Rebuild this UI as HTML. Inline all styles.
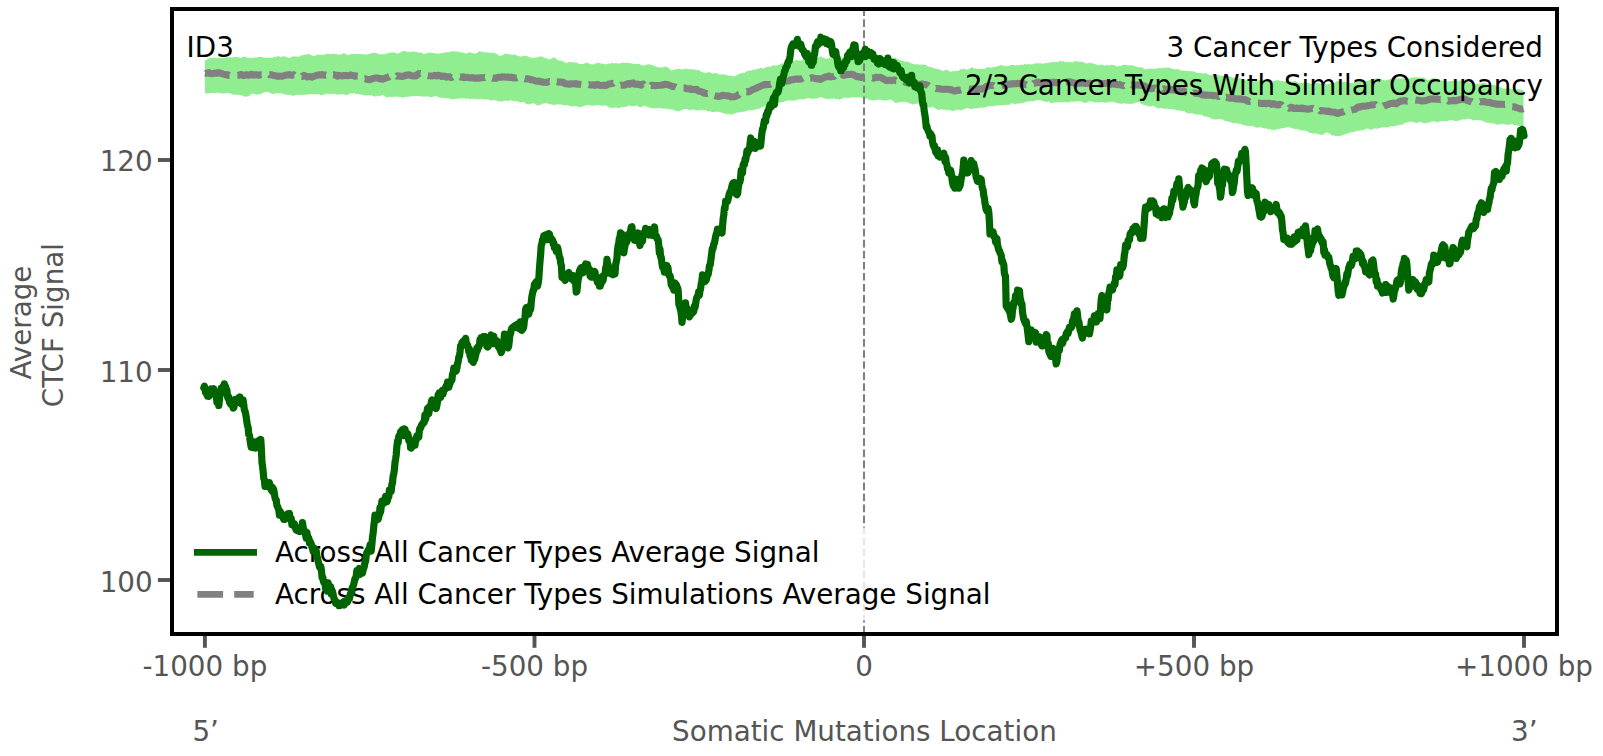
<!DOCTYPE html>
<html lang="en"><head><meta charset="utf-8"><title>CTCF Signal Plot</title>
<style>html,body{margin:0;padding:0;background:#fff}body{width:1603px;height:756px;overflow:hidden}</style></head>
<body>
<svg width="1603" height="756" viewBox="0 0 1603 756" style="display:block;font-family:'DejaVu Sans','Liberation Sans',sans-serif;font-size:27.78px">
<rect x="0" y="0" width="1603" height="756" fill="#fff"/>
<path d="M204.9,59.9 L205.6,60.0 L206.2,59.9 L206.9,59.4 L207.5,59.1 L208.2,58.5 L208.9,58.4 L209.5,58.3 L210.2,57.9 L210.8,58.0 L211.5,57.8 L212.2,57.7 L212.8,58.1 L213.5,58.1 L214.1,57.6 L214.8,57.6 L215.5,58.0 L216.1,57.8 L216.8,58.2 L217.4,58.3 L218.1,58.0 L218.8,57.9 L219.4,58.0 L220.1,58.1 L220.7,58.0 L221.4,58.0 L222.1,58.2 L222.7,58.0 L223.4,58.0 L224.0,57.8 L224.7,58.0 L225.4,57.6 L226.0,57.5 L226.7,57.1 L227.3,57.0 L228.0,57.4 L228.7,57.4 L229.3,57.2 L230.0,57.4 L230.6,57.1 L231.3,57.4 L232.0,57.6 L232.6,57.3 L233.3,57.3 L233.9,57.2 L234.6,57.0 L235.3,56.7 L235.9,57.5 L236.6,56.9 L237.2,56.7 L237.9,57.3 L238.6,57.1 L239.2,57.7 L239.9,57.7 L240.5,57.9 L241.2,57.4 L241.9,57.5 L242.5,57.2 L243.2,56.8 L243.8,56.8 L244.5,56.4 L245.2,56.8 L245.8,56.7 L246.5,57.2 L247.1,57.5 L247.8,57.8 L248.5,57.9 L249.1,58.0 L249.8,58.1 L250.4,58.2 L251.1,58.1 L251.8,57.9 L252.4,57.7 L253.1,57.7 L253.7,57.9 L254.4,58.0 L255.1,57.5 L255.7,57.0 L256.4,57.2 L257.0,57.6 L257.7,57.4 L258.4,56.8 L259.0,56.8 L259.7,56.9 L260.3,56.8 L261.0,56.9 L261.7,57.0 L262.3,57.1 L263.0,57.2 L263.6,57.7 L264.3,57.8 L265.0,57.4 L265.6,57.5 L266.3,57.4 L266.9,57.9 L267.6,57.5 L268.3,57.6 L268.9,57.4 L269.6,57.4 L270.2,57.6 L270.9,58.0 L271.6,57.7 L272.2,57.7 L272.9,57.6 L273.5,57.4 L274.2,57.1 L274.9,57.1 L275.5,56.9 L276.2,56.4 L276.8,56.4 L277.5,55.9 L278.2,56.4 L278.8,56.3 L279.5,56.6 L280.1,56.8 L280.8,57.1 L281.5,57.0 L282.1,56.5 L282.8,56.4 L283.4,56.1 L284.1,56.4 L284.8,56.5 L285.4,56.6 L286.1,56.7 L286.7,57.0 L287.4,57.3 L288.1,57.7 L288.7,57.9 L289.4,57.7 L290.0,57.7 L290.7,57.4 L291.4,57.1 L292.0,56.7 L292.7,56.6 L293.3,56.3 L294.0,56.6 L294.7,56.4 L295.3,56.5 L296.0,56.6 L296.6,56.8 L297.3,56.7 L298.0,56.6 L298.6,56.8 L299.3,56.6 L299.9,56.5 L300.6,55.9 L301.3,55.6 L301.9,55.1 L302.6,55.3 L303.2,55.2 L303.9,54.8 L304.6,54.5 L305.2,54.3 L305.9,54.8 L306.5,54.5 L307.2,54.5 L307.9,54.0 L308.5,54.1 L309.2,54.3 L309.8,54.2 L310.5,54.4 L311.2,55.0 L311.8,55.4 L312.5,55.9 L313.1,56.1 L313.8,55.9 L314.5,55.5 L315.1,55.8 L315.8,55.8 L316.4,55.1 L317.1,55.0 L317.8,54.7 L318.4,54.3 L319.1,54.7 L319.7,55.0 L320.4,54.7 L321.1,54.4 L321.7,54.6 L322.4,54.7 L323.0,54.9 L323.7,55.0 L324.4,54.7 L325.0,54.0 L325.7,54.2 L326.3,54.0 L327.0,53.9 L327.7,53.5 L328.3,53.9 L329.0,54.1 L329.6,54.0 L330.3,54.2 L331.0,54.0 L331.6,54.2 L332.3,53.7 L332.9,53.7 L333.6,53.5 L334.3,54.0 L334.9,54.2 L335.6,54.1 L336.2,54.0 L336.9,53.9 L337.6,54.3 L338.2,54.8 L338.9,54.9 L339.5,54.5 L340.2,54.4 L340.9,54.3 L341.5,54.1 L342.2,54.3 L342.8,53.7 L343.5,53.0 L344.2,53.1 L344.8,53.6 L345.5,53.8 L346.1,54.4 L346.8,54.7 L347.5,55.1 L348.1,54.9 L348.8,55.1 L349.4,54.6 L350.1,54.4 L350.8,54.2 L351.4,54.0 L352.1,54.0 L352.7,53.5 L353.4,54.1 L354.1,53.9 L354.7,53.8 L355.4,53.9 L356.0,54.1 L356.7,53.9 L357.4,54.0 L358.0,54.2 L358.7,53.7 L359.3,53.8 L360.0,53.9 L360.7,54.0 L361.3,54.0 L362.0,54.4 L362.6,54.4 L363.3,54.1 L364.0,54.2 L364.6,54.4 L365.3,54.6 L365.9,54.7 L366.6,54.4 L367.3,54.4 L367.9,54.1 L368.6,54.2 L369.2,54.1 L369.9,53.5 L370.6,53.6 L371.2,53.6 L371.9,53.2 L372.5,52.9 L373.2,52.7 L373.9,53.0 L374.5,52.9 L375.2,53.1 L375.8,52.7 L376.5,53.0 L377.2,53.4 L377.8,53.6 L378.5,54.1 L379.1,54.0 L379.8,54.5 L380.5,54.4 L381.1,54.2 L381.8,54.1 L382.4,54.3 L383.1,54.3 L383.8,54.5 L384.4,54.3 L385.1,54.3 L385.7,53.6 L386.4,53.6 L387.1,53.2 L387.7,53.4 L388.4,52.9 L389.0,52.4 L389.7,52.7 L390.4,52.9 L391.0,52.5 L391.7,52.5 L392.3,52.5 L393.0,52.2 L393.7,52.4 L394.3,52.7 L395.0,52.7 L395.6,52.7 L396.3,53.2 L397.0,53.5 L397.6,53.4 L398.3,53.3 L398.9,53.4 L399.6,52.5 L400.3,52.6 L400.9,52.4 L401.6,51.7 L402.2,51.5 L402.9,51.1 L403.6,51.0 L404.2,50.4 L404.9,51.1 L405.5,51.3 L406.2,51.9 L406.9,51.8 L407.5,51.7 L408.2,52.0 L408.8,51.7 L409.5,52.2 L410.2,51.5 L410.8,51.9 L411.5,51.7 L412.1,51.8 L412.8,51.6 L413.5,51.5 L414.1,51.7 L414.8,51.5 L415.4,51.9 L416.1,51.8 L416.8,52.0 L417.4,52.2 L418.1,52.7 L418.7,52.6 L419.4,52.6 L420.1,52.7 L420.7,52.5 L421.4,52.6 L422.0,52.9 L422.7,53.5 L423.4,53.7 L424.0,53.9 L424.7,53.8 L425.3,53.6 L426.0,53.4 L426.7,53.5 L427.3,53.1 L428.0,53.0 L428.6,52.6 L429.3,52.4 L430.0,52.8 L430.6,52.8 L431.3,52.7 L431.9,52.9 L432.6,53.0 L433.3,53.2 L433.9,53.1 L434.6,53.0 L435.2,53.3 L435.9,53.6 L436.6,53.7 L437.2,53.7 L437.9,53.7 L438.5,53.5 L439.2,53.8 L439.9,53.8 L440.5,53.5 L441.2,53.0 L441.8,53.1 L442.5,52.9 L443.2,52.9 L443.8,52.8 L444.5,52.7 L445.1,52.5 L445.8,52.2 L446.5,52.2 L447.1,52.6 L447.8,52.1 L448.4,52.3 L449.1,52.2 L449.8,51.9 L450.4,51.6 L451.1,51.6 L451.7,51.3 L452.4,51.2 L453.1,51.4 L453.7,51.2 L454.4,51.4 L455.0,51.6 L455.7,51.5 L456.4,51.8 L457.0,51.6 L457.7,51.6 L458.3,51.6 L459.0,52.1 L459.7,52.2 L460.3,52.1 L461.0,52.4 L461.6,52.0 L462.3,52.8 L463.0,52.7 L463.6,52.9 L464.3,52.9 L464.9,53.1 L465.6,53.4 L466.3,53.4 L466.9,53.5 L467.6,52.8 L468.2,52.5 L468.9,52.6 L469.6,52.3 L470.2,52.5 L470.9,52.4 L471.5,53.0 L472.2,52.9 L472.9,53.0 L473.5,53.7 L474.2,53.5 L474.8,53.5 L475.5,53.2 L476.2,53.2 L476.8,52.9 L477.5,52.8 L478.1,52.3 L478.8,51.4 L479.5,51.0 L480.1,51.5 L480.8,51.7 L481.4,51.9 L482.1,51.1 L482.8,51.7 L483.4,52.4 L484.1,52.0 L484.7,52.4 L485.4,52.3 L486.1,52.4 L486.7,52.0 L487.4,52.8 L488.0,52.7 L488.7,52.6 L489.4,52.9 L490.0,52.4 L490.7,52.7 L491.3,52.8 L492.0,53.0 L492.7,52.8 L493.3,52.4 L494.0,52.9 L494.6,53.2 L495.3,53.6 L496.0,53.7 L496.6,54.1 L497.3,54.0 L497.9,54.7 L498.6,55.4 L499.3,55.9 L499.9,56.0 L500.6,55.7 L501.2,55.6 L501.9,55.2 L502.6,55.4 L503.2,54.7 L503.9,54.2 L504.5,54.2 L505.2,53.6 L505.9,53.7 L506.5,53.8 L507.2,53.8 L507.8,54.1 L508.5,53.9 L509.2,54.3 L509.8,54.4 L510.5,54.8 L511.1,54.6 L511.8,54.5 L512.5,54.7 L513.1,54.6 L513.8,54.6 L514.4,54.7 L515.1,54.6 L515.8,54.7 L516.4,55.0 L517.1,55.7 L517.7,56.1 L518.4,56.2 L519.1,56.2 L519.7,56.1 L520.4,56.8 L521.0,56.9 L521.7,56.8 L522.4,56.0 L523.0,55.6 L523.7,55.9 L524.3,55.8 L525.0,55.8 L525.7,55.9 L526.3,55.9 L527.0,56.2 L527.6,56.3 L528.3,56.5 L529.0,57.0 L529.6,57.5 L530.3,57.6 L530.9,57.5 L531.6,58.1 L532.3,58.2 L532.9,58.1 L533.6,58.1 L534.2,57.6 L534.9,57.7 L535.6,57.5 L536.2,57.7 L536.9,57.4 L537.5,56.8 L538.2,56.8 L538.9,56.9 L539.5,57.2 L540.2,56.3 L540.8,56.5 L541.5,56.1 L542.2,56.8 L542.8,57.6 L543.5,57.2 L544.1,57.3 L544.8,57.8 L545.5,58.0 L546.1,58.2 L546.8,58.4 L547.4,58.7 L548.1,58.7 L548.8,59.2 L549.4,59.5 L550.1,59.1 L550.7,58.7 L551.4,58.4 L552.1,58.1 L552.7,57.7 L553.4,57.8 L554.0,57.6 L554.7,57.5 L555.4,58.1 L556.0,59.1 L556.7,59.2 L557.3,59.6 L558.0,60.1 L558.7,60.6 L559.3,61.1 L560.0,61.0 L560.6,60.5 L561.3,60.4 L562.0,60.7 L562.6,61.1 L563.3,61.6 L563.9,62.0 L564.6,62.0 L565.3,62.6 L565.9,62.9 L566.6,62.9 L567.2,63.1 L567.9,62.9 L568.6,62.2 L569.2,61.7 L569.9,61.6 L570.5,61.9 L571.2,62.2 L571.9,62.3 L572.5,62.4 L573.2,61.9 L573.8,62.3 L574.5,62.6 L575.2,62.8 L575.8,62.5 L576.5,62.5 L577.1,63.1 L577.8,63.2 L578.5,63.9 L579.1,63.5 L579.8,63.7 L580.4,63.9 L581.1,64.0 L581.8,63.9 L582.4,64.0 L583.1,64.2 L583.7,63.6 L584.4,63.4 L585.1,63.2 L585.7,62.9 L586.4,63.0 L587.0,62.7 L587.7,62.8 L588.4,63.2 L589.0,63.5 L589.7,64.0 L590.3,64.1 L591.0,64.2 L591.7,64.3 L592.3,64.3 L593.0,64.4 L593.6,64.2 L594.3,63.9 L595.0,63.7 L595.6,63.3 L596.3,63.2 L596.9,63.0 L597.6,63.0 L598.3,62.9 L598.9,62.9 L599.6,63.1 L600.2,63.4 L600.9,63.6 L601.6,63.7 L602.2,63.8 L602.9,63.6 L603.5,63.7 L604.2,63.9 L604.9,64.3 L605.5,64.3 L606.2,64.1 L606.8,64.2 L607.5,63.7 L608.2,63.4 L608.8,63.5 L609.5,63.9 L610.1,63.6 L610.8,63.4 L611.5,63.0 L612.1,62.9 L612.8,63.0 L613.4,63.5 L614.1,63.5 L614.8,62.9 L615.4,63.2 L616.1,63.0 L616.7,63.2 L617.4,63.3 L618.1,63.5 L618.7,64.0 L619.4,63.3 L620.0,63.2 L620.7,63.3 L621.4,63.0 L622.0,62.9 L622.7,62.6 L623.3,62.7 L624.0,62.5 L624.7,62.7 L625.3,63.0 L626.0,62.7 L626.6,62.9 L627.3,62.8 L628.0,62.8 L628.6,63.0 L629.3,63.0 L629.9,63.1 L630.6,63.3 L631.3,63.4 L631.9,63.5 L632.6,63.6 L633.2,64.0 L633.9,64.1 L634.6,64.0 L635.2,63.8 L635.9,63.8 L636.5,64.1 L637.2,63.9 L637.9,63.9 L638.5,63.6 L639.2,64.1 L639.8,64.3 L640.5,64.8 L641.2,65.1 L641.8,64.9 L642.5,65.4 L643.1,65.7 L643.8,65.5 L644.5,65.2 L645.1,64.8 L645.8,65.0 L646.4,64.8 L647.1,64.5 L647.8,64.3 L648.4,64.2 L649.1,64.3 L649.7,64.6 L650.4,64.8 L651.1,64.7 L651.7,64.8 L652.4,65.4 L653.0,65.4 L653.7,65.6 L654.4,66.2 L655.0,66.2 L655.7,66.6 L656.3,67.0 L657.0,67.0 L657.7,67.0 L658.3,67.2 L659.0,67.7 L659.6,67.4 L660.3,67.5 L661.0,67.5 L661.6,67.3 L662.3,67.0 L662.9,67.4 L663.6,67.2 L664.3,66.9 L664.9,66.6 L665.6,66.6 L666.2,66.8 L666.9,67.1 L667.6,67.4 L668.2,67.4 L668.9,68.2 L669.5,68.5 L670.2,69.8 L670.9,70.3 L671.5,70.4 L672.2,70.2 L672.8,70.0 L673.5,69.8 L674.2,69.7 L674.8,69.8 L675.5,69.6 L676.1,69.1 L676.8,68.9 L677.5,68.7 L678.1,69.0 L678.8,68.8 L679.4,68.8 L680.1,68.9 L680.8,68.9 L681.4,69.5 L682.1,69.6 L682.7,69.4 L683.4,69.3 L684.1,69.2 L684.7,69.1 L685.4,68.8 L686.0,68.6 L686.7,68.8 L687.4,68.8 L688.0,69.4 L688.7,69.1 L689.3,69.5 L690.0,69.2 L690.7,69.3 L691.3,69.2 L692.0,69.4 L692.6,69.3 L693.3,69.3 L694.0,69.3 L694.6,69.7 L695.3,69.6 L695.9,69.9 L696.6,69.9 L697.3,70.0 L697.9,69.9 L698.6,70.2 L699.2,70.3 L699.9,70.8 L700.6,71.3 L701.2,71.8 L701.9,72.0 L702.5,72.0 L703.2,72.6 L703.9,72.9 L704.5,73.0 L705.2,72.7 L705.8,72.9 L706.5,72.3 L707.2,72.4 L707.8,72.5 L708.5,72.5 L709.1,71.8 L709.8,72.3 L710.5,72.4 L711.1,73.0 L711.8,72.9 L712.4,73.6 L713.1,73.7 L713.8,73.3 L714.4,72.7 L715.1,72.9 L715.7,73.3 L716.4,73.3 L717.1,73.7 L717.7,73.6 L718.4,73.7 L719.0,74.4 L719.7,74.6 L720.4,74.5 L721.0,74.3 L721.7,74.5 L722.3,74.4 L723.0,74.3 L723.7,74.4 L724.3,74.2 L725.0,74.7 L725.6,74.8 L726.3,75.1 L727.0,75.3 L727.6,75.6 L728.3,75.5 L728.9,75.7 L729.6,75.5 L730.3,75.2 L730.9,75.4 L731.6,75.9 L732.2,76.2 L732.9,76.0 L733.6,76.2 L734.2,76.2 L734.9,75.9 L735.5,75.9 L736.2,75.5 L736.9,75.3 L737.5,74.8 L738.2,74.4 L738.8,73.8 L739.5,73.8 L740.2,73.7 L740.8,73.4 L741.5,73.1 L742.1,73.1 L742.8,72.7 L743.5,72.9 L744.1,72.9 L744.8,72.6 L745.4,72.0 L746.1,71.6 L746.8,71.3 L747.4,70.9 L748.1,70.9 L748.7,70.8 L749.4,70.3 L750.1,70.9 L750.7,70.6 L751.4,70.3 L752.0,69.9 L752.7,70.1 L753.4,70.0 L754.0,69.4 L754.7,69.5 L755.3,69.3 L756.0,69.4 L756.7,69.2 L757.3,69.2 L758.0,68.6 L758.6,69.0 L759.3,68.6 L760.0,68.0 L760.6,68.1 L761.3,68.0 L761.9,68.1 L762.6,68.9 L763.3,68.6 L763.9,68.3 L764.6,67.9 L765.2,67.5 L765.9,67.2 L766.6,67.3 L767.2,66.9 L767.9,66.5 L768.5,66.8 L769.2,66.6 L769.9,66.4 L770.5,66.8 L771.2,66.3 L771.8,66.1 L772.5,65.7 L773.2,65.3 L773.8,65.3 L774.5,65.6 L775.1,65.6 L775.8,65.8 L776.5,65.7 L777.1,64.9 L777.8,65.2 L778.4,65.0 L779.1,64.9 L779.8,64.8 L780.4,64.0 L781.1,63.5 L781.7,63.5 L782.4,63.4 L783.1,63.3 L783.7,63.0 L784.4,62.6 L785.0,62.3 L785.7,62.1 L786.4,61.9 L787.0,62.0 L787.7,62.2 L788.3,61.6 L789.0,61.9 L789.7,61.3 L790.3,61.6 L791.0,62.0 L791.6,62.2 L792.3,62.1 L793.0,61.5 L793.6,61.1 L794.3,61.0 L794.9,61.1 L795.6,60.0 L796.3,59.8 L796.9,60.0 L797.6,60.5 L798.2,60.5 L798.9,60.6 L799.6,60.5 L800.2,60.5 L800.9,60.5 L801.5,60.5 L802.2,60.2 L802.9,59.8 L803.5,59.4 L804.2,59.7 L804.8,59.5 L805.5,60.0 L806.2,60.0 L806.8,59.5 L807.5,59.1 L808.1,59.1 L808.8,59.3 L809.5,59.3 L810.1,59.3 L810.8,58.6 L811.4,58.1 L812.1,58.2 L812.8,58.1 L813.4,57.9 L814.1,57.8 L814.7,58.1 L815.4,57.9 L816.1,58.0 L816.7,58.2 L817.4,57.7 L818.0,57.8 L818.7,57.5 L819.4,57.2 L820.0,56.9 L820.7,56.7 L821.3,56.6 L822.0,57.3 L822.7,57.5 L823.3,57.7 L824.0,58.2 L824.6,58.2 L825.3,58.5 L826.0,59.1 L826.6,59.1 L827.3,58.6 L827.9,58.3 L828.6,58.5 L829.3,58.2 L829.9,57.9 L830.6,57.7 L831.2,57.6 L831.9,58.4 L832.6,58.5 L833.2,58.2 L833.9,58.5 L834.5,58.3 L835.2,58.3 L835.9,58.1 L836.5,58.2 L837.2,57.8 L837.8,57.6 L838.5,58.0 L839.2,58.5 L839.8,58.2 L840.5,58.2 L841.1,58.0 L841.8,57.5 L842.5,57.4 L843.1,57.7 L843.8,57.7 L844.4,57.5 L845.1,57.6 L845.8,57.6 L846.4,57.8 L847.1,57.9 L847.7,58.2 L848.4,57.6 L849.1,57.7 L849.7,57.9 L850.4,57.6 L851.0,58.0 L851.7,58.0 L852.4,57.9 L853.0,58.2 L853.7,58.0 L854.3,58.2 L855.0,58.0 L855.7,58.4 L856.3,58.2 L857.0,58.1 L857.6,58.3 L858.3,58.1 L859.0,58.3 L859.6,58.5 L860.3,58.9 L860.9,58.7 L861.6,58.9 L862.3,59.1 L862.9,58.8 L863.6,59.0 L864.2,58.9 L864.9,58.6 L865.6,58.8 L866.2,58.8 L866.9,58.4 L867.5,58.3 L868.2,58.4 L868.9,58.2 L869.5,58.3 L870.2,58.9 L870.8,58.4 L871.5,58.5 L872.2,59.3 L872.8,58.8 L873.5,58.6 L874.1,58.4 L874.8,58.3 L875.5,57.8 L876.1,57.5 L876.8,57.0 L877.4,56.3 L878.1,56.5 L878.8,56.5 L879.4,56.8 L880.1,57.0 L880.7,56.9 L881.4,57.0 L882.1,57.2 L882.7,57.4 L883.4,56.9 L884.0,56.8 L884.7,57.2 L885.4,57.2 L886.0,57.5 L886.7,57.8 L887.3,58.0 L888.0,58.3 L888.7,58.4 L889.3,58.5 L890.0,58.4 L890.6,58.2 L891.3,58.0 L892.0,57.9 L892.6,57.9 L893.3,57.5 L893.9,57.7 L894.6,57.8 L895.3,58.0 L895.9,58.1 L896.6,58.4 L897.2,59.2 L897.9,59.3 L898.6,59.6 L899.2,59.7 L899.9,60.0 L900.5,60.2 L901.2,60.3 L901.9,60.7 L902.5,61.0 L903.2,61.0 L903.8,61.2 L904.5,61.5 L905.2,62.0 L905.8,61.9 L906.5,61.7 L907.1,61.7 L907.8,61.6 L908.5,62.0 L909.1,62.5 L909.8,62.7 L910.4,63.0 L911.1,63.3 L911.8,63.4 L912.4,63.5 L913.1,64.1 L913.7,64.3 L914.4,64.5 L915.1,64.3 L915.7,64.4 L916.4,64.2 L917.0,63.9 L917.7,64.3 L918.4,64.5 L919.0,64.8 L919.7,64.6 L920.3,64.8 L921.0,64.8 L921.7,64.7 L922.3,64.5 L923.0,64.6 L923.6,64.7 L924.3,64.5 L925.0,65.0 L925.6,65.0 L926.3,65.1 L926.9,65.9 L927.6,66.3 L928.3,66.6 L928.9,66.7 L929.6,67.1 L930.2,66.7 L930.9,67.2 L931.6,67.6 L932.2,67.8 L932.9,68.0 L933.5,68.1 L934.2,68.2 L934.9,68.8 L935.5,68.8 L936.2,69.0 L936.8,68.8 L937.5,69.1 L938.2,68.7 L938.8,68.9 L939.5,69.6 L940.1,70.0 L940.8,70.3 L941.5,70.3 L942.1,70.7 L942.8,71.1 L943.4,70.8 L944.1,70.5 L944.8,70.2 L945.4,69.5 L946.1,69.9 L946.7,70.0 L947.4,70.0 L948.1,70.3 L948.7,71.0 L949.4,71.1 L950.0,71.7 L950.7,72.0 L951.4,71.6 L952.0,71.6 L952.7,71.2 L953.3,71.0 L954.0,71.1 L954.7,71.4 L955.3,71.1 L956.0,71.1 L956.6,71.1 L957.3,70.7 L958.0,71.1 L958.6,70.8 L959.3,70.2 L959.9,69.4 L960.6,69.3 L961.3,69.0 L961.9,69.2 L962.6,69.2 L963.2,68.5 L963.9,68.8 L964.6,69.0 L965.2,69.6 L965.9,69.5 L966.5,69.9 L967.2,69.7 L967.9,69.2 L968.5,69.4 L969.2,68.8 L969.8,68.4 L970.5,67.9 L971.2,67.7 L971.8,67.1 L972.5,67.6 L973.1,67.8 L973.8,68.5 L974.5,68.8 L975.1,68.4 L975.8,68.3 L976.4,68.9 L977.1,68.9 L977.8,68.8 L978.4,69.3 L979.1,68.8 L979.7,68.7 L980.4,68.8 L981.1,69.0 L981.7,68.9 L982.4,69.1 L983.0,68.9 L983.7,68.6 L984.4,69.0 L985.0,68.5 L985.7,68.2 L986.3,67.7 L987.0,67.3 L987.7,67.1 L988.3,67.3 L989.0,67.2 L989.6,67.2 L990.3,67.4 L991.0,67.8 L991.6,67.8 L992.3,67.4 L992.9,67.2 L993.6,67.0 L994.3,66.8 L994.9,67.0 L995.6,67.0 L996.2,66.6 L996.9,66.5 L997.6,66.1 L998.2,65.8 L998.9,65.7 L999.5,65.7 L1000.2,65.5 L1000.9,65.1 L1001.5,65.3 L1002.2,65.0 L1002.8,65.4 L1003.5,65.6 L1004.2,65.9 L1004.8,66.3 L1005.5,66.1 L1006.1,66.0 L1006.8,66.0 L1007.5,66.4 L1008.1,66.0 L1008.8,65.6 L1009.4,65.7 L1010.1,65.2 L1010.8,65.3 L1011.4,65.1 L1012.1,65.0 L1012.7,65.0 L1013.4,65.0 L1014.1,65.3 L1014.7,65.2 L1015.4,65.5 L1016.0,65.3 L1016.7,64.9 L1017.4,64.9 L1018.0,65.2 L1018.7,65.2 L1019.3,65.2 L1020.0,65.0 L1020.7,64.9 L1021.3,64.3 L1022.0,64.6 L1022.6,65.1 L1023.3,64.9 L1024.0,64.3 L1024.6,64.0 L1025.3,64.1 L1025.9,64.4 L1026.6,64.5 L1027.3,64.6 L1027.9,64.1 L1028.6,64.1 L1029.2,64.3 L1029.9,64.5 L1030.6,64.2 L1031.2,64.5 L1031.9,64.6 L1032.5,64.2 L1033.2,64.0 L1033.9,63.7 L1034.5,63.3 L1035.2,63.5 L1035.8,63.7 L1036.5,63.3 L1037.2,63.3 L1037.8,63.3 L1038.5,63.3 L1039.1,63.2 L1039.8,63.7 L1040.5,63.3 L1041.1,63.2 L1041.8,63.6 L1042.4,63.6 L1043.1,63.8 L1043.8,63.7 L1044.4,63.3 L1045.1,62.9 L1045.7,63.3 L1046.4,63.3 L1047.1,62.9 L1047.7,62.9 L1048.4,62.7 L1049.0,62.4 L1049.7,62.6 L1050.4,62.7 L1051.0,62.1 L1051.7,61.9 L1052.3,61.9 L1053.0,61.7 L1053.7,62.1 L1054.3,62.3 L1055.0,62.2 L1055.6,62.2 L1056.3,62.1 L1057.0,61.9 L1057.6,61.7 L1058.3,62.0 L1058.9,61.6 L1059.6,61.2 L1060.3,60.8 L1060.9,61.3 L1061.6,61.3 L1062.2,61.4 L1062.9,61.5 L1063.6,61.1 L1064.2,61.5 L1064.9,61.9 L1065.5,62.3 L1066.2,61.8 L1066.9,61.4 L1067.5,61.6 L1068.2,61.9 L1068.8,62.5 L1069.5,62.3 L1070.2,62.0 L1070.8,61.5 L1071.5,62.0 L1072.1,62.4 L1072.8,62.3 L1073.5,61.9 L1074.1,61.2 L1074.8,60.9 L1075.4,61.0 L1076.1,61.5 L1076.8,61.5 L1077.4,61.3 L1078.1,61.3 L1078.7,61.5 L1079.4,62.0 L1080.1,61.8 L1080.7,62.0 L1081.4,61.9 L1082.0,62.1 L1082.7,62.1 L1083.4,62.5 L1084.0,62.5 L1084.7,62.6 L1085.3,63.2 L1086.0,63.4 L1086.7,63.6 L1087.3,63.5 L1088.0,63.1 L1088.6,63.2 L1089.3,63.0 L1090.0,63.0 L1090.6,63.0 L1091.3,63.0 L1091.9,63.3 L1092.6,63.5 L1093.3,63.7 L1093.9,63.7 L1094.6,64.0 L1095.2,64.0 L1095.9,64.4 L1096.6,64.5 L1097.2,64.9 L1097.9,65.2 L1098.5,65.1 L1099.2,65.5 L1099.9,65.1 L1100.5,64.8 L1101.2,64.8 L1101.8,64.8 L1102.5,64.8 L1103.2,65.0 L1103.8,65.5 L1104.5,65.5 L1105.1,65.5 L1105.8,65.2 L1106.5,65.3 L1107.1,65.0 L1107.8,65.3 L1108.4,65.3 L1109.1,65.5 L1109.8,65.3 L1110.4,65.0 L1111.1,65.2 L1111.7,64.6 L1112.4,64.9 L1113.1,65.2 L1113.7,64.7 L1114.4,64.9 L1115.0,65.2 L1115.7,66.1 L1116.4,66.2 L1117.0,66.5 L1117.7,66.2 L1118.3,66.0 L1119.0,66.1 L1119.7,66.2 L1120.3,66.3 L1121.0,65.7 L1121.6,65.6 L1122.3,65.3 L1123.0,64.9 L1123.6,64.9 L1124.3,64.7 L1124.9,64.4 L1125.6,64.7 L1126.3,65.1 L1126.9,65.3 L1127.6,65.3 L1128.2,65.3 L1128.9,65.4 L1129.6,65.2 L1130.2,65.4 L1130.9,65.0 L1131.5,65.2 L1132.2,65.5 L1132.9,65.5 L1133.5,65.9 L1134.2,65.8 L1134.8,66.0 L1135.5,66.5 L1136.2,66.7 L1136.8,66.5 L1137.5,66.8 L1138.1,66.9 L1138.8,67.4 L1139.5,67.4 L1140.1,67.2 L1140.8,67.2 L1141.4,66.9 L1142.1,67.5 L1142.8,68.2 L1143.4,68.3 L1144.1,68.8 L1144.7,69.2 L1145.4,69.2 L1146.1,69.0 L1146.7,69.2 L1147.4,68.9 L1148.0,69.1 L1148.7,68.8 L1149.4,68.5 L1150.0,68.6 L1150.7,68.8 L1151.3,69.1 L1152.0,68.6 L1152.7,68.6 L1153.3,68.5 L1154.0,68.8 L1154.6,68.7 L1155.3,68.9 L1156.0,68.7 L1156.6,68.7 L1157.3,68.2 L1157.9,68.0 L1158.6,67.8 L1159.3,68.1 L1159.9,68.7 L1160.6,68.1 L1161.2,68.0 L1161.9,68.0 L1162.6,68.0 L1163.2,68.2 L1163.9,68.1 L1164.5,68.1 L1165.2,67.3 L1165.9,67.6 L1166.5,67.7 L1167.2,67.7 L1167.8,67.5 L1168.5,67.7 L1169.2,67.9 L1169.8,67.6 L1170.5,68.2 L1171.1,68.4 L1171.8,68.7 L1172.5,69.1 L1173.1,69.1 L1173.8,68.9 L1174.4,68.9 L1175.1,69.6 L1175.8,69.4 L1176.4,69.0 L1177.1,69.3 L1177.7,69.0 L1178.4,69.5 L1179.1,69.6 L1179.7,70.1 L1180.4,70.2 L1181.0,70.4 L1181.7,70.8 L1182.4,70.6 L1183.0,70.7 L1183.7,70.6 L1184.3,70.4 L1185.0,70.7 L1185.7,70.8 L1186.3,71.0 L1187.0,70.9 L1187.6,70.8 L1188.3,71.0 L1189.0,71.2 L1189.6,71.0 L1190.3,71.1 L1190.9,70.9 L1191.6,71.6 L1192.3,71.6 L1192.9,71.0 L1193.6,71.3 L1194.2,71.6 L1194.9,71.9 L1195.6,72.0 L1196.2,72.7 L1196.9,72.8 L1197.5,72.6 L1198.2,73.3 L1198.9,72.8 L1199.5,73.2 L1200.2,73.0 L1200.8,73.1 L1201.5,73.6 L1202.2,73.3 L1202.8,73.1 L1203.5,73.4 L1204.1,73.4 L1204.8,73.0 L1205.5,73.7 L1206.1,73.1 L1206.8,73.2 L1207.4,74.0 L1208.1,74.7 L1208.8,74.6 L1209.4,75.0 L1210.1,75.2 L1210.7,75.3 L1211.4,75.2 L1212.1,75.0 L1212.7,74.6 L1213.4,74.7 L1214.0,74.8 L1214.7,74.5 L1215.4,74.4 L1216.0,74.2 L1216.7,74.3 L1217.3,74.5 L1218.0,74.7 L1218.7,75.3 L1219.3,75.1 L1220.0,75.8 L1220.6,76.1 L1221.3,75.7 L1222.0,75.7 L1222.6,75.8 L1223.3,76.0 L1223.9,75.9 L1224.6,75.6 L1225.3,75.0 L1225.9,75.4 L1226.6,75.9 L1227.2,75.9 L1227.9,76.0 L1228.6,76.1 L1229.2,75.7 L1229.9,76.7 L1230.5,77.1 L1231.2,77.1 L1231.9,77.3 L1232.5,77.4 L1233.2,77.7 L1233.8,77.3 L1234.5,78.2 L1235.2,78.0 L1235.8,78.0 L1236.5,78.3 L1237.1,78.2 L1237.8,78.4 L1238.5,78.6 L1239.1,78.2 L1239.8,78.3 L1240.4,78.5 L1241.1,78.4 L1241.8,78.8 L1242.4,79.3 L1243.1,79.2 L1243.7,79.0 L1244.4,79.4 L1245.1,79.9 L1245.7,80.3 L1246.4,80.6 L1247.0,80.5 L1247.7,80.4 L1248.4,80.3 L1249.0,80.6 L1249.7,80.4 L1250.3,80.3 L1251.0,80.6 L1251.7,80.2 L1252.3,80.7 L1253.0,80.7 L1253.6,81.4 L1254.3,81.2 L1255.0,81.2 L1255.6,80.9 L1256.3,80.7 L1256.9,81.2 L1257.6,81.2 L1258.3,80.8 L1258.9,80.5 L1259.6,80.2 L1260.2,80.2 L1260.9,79.8 L1261.6,80.0 L1262.2,79.9 L1262.9,80.1 L1263.5,80.2 L1264.2,80.4 L1264.9,80.6 L1265.5,80.2 L1266.2,80.2 L1266.8,80.4 L1267.5,80.7 L1268.2,80.6 L1268.8,80.3 L1269.5,80.7 L1270.1,80.8 L1270.8,81.4 L1271.5,81.7 L1272.1,81.4 L1272.8,81.5 L1273.4,81.0 L1274.1,80.6 L1274.8,80.8 L1275.4,80.8 L1276.1,80.8 L1276.7,80.2 L1277.4,80.3 L1278.1,79.9 L1278.7,79.9 L1279.4,81.1 L1280.0,81.1 L1280.7,81.4 L1281.4,80.7 L1282.0,80.8 L1282.7,81.3 L1283.3,81.4 L1284.0,81.7 L1284.7,81.2 L1285.3,81.0 L1286.0,81.3 L1286.6,81.1 L1287.3,81.0 L1288.0,81.1 L1288.6,81.2 L1289.3,81.5 L1289.9,81.7 L1290.6,81.4 L1291.3,81.2 L1291.9,81.6 L1292.6,81.4 L1293.2,81.2 L1293.9,81.4 L1294.6,81.1 L1295.2,80.8 L1295.9,81.3 L1296.5,81.9 L1297.2,82.0 L1297.9,82.5 L1298.5,82.9 L1299.2,82.7 L1299.8,83.1 L1300.5,83.0 L1301.2,83.1 L1301.8,83.0 L1302.5,82.9 L1303.1,82.9 L1303.8,82.6 L1304.5,82.5 L1305.1,82.7 L1305.8,82.9 L1306.4,82.8 L1307.1,82.7 L1307.8,83.0 L1308.4,82.7 L1309.1,83.0 L1309.7,83.4 L1310.4,83.6 L1311.1,83.9 L1311.7,83.9 L1312.4,83.8 L1313.0,83.7 L1313.7,83.9 L1314.4,83.6 L1315.0,83.4 L1315.7,83.0 L1316.3,83.0 L1317.0,82.8 L1317.7,83.1 L1318.3,83.2 L1319.0,83.1 L1319.6,83.5 L1320.3,83.7 L1321.0,83.7 L1321.6,83.8 L1322.3,84.0 L1322.9,83.7 L1323.6,83.8 L1324.3,83.9 L1324.9,84.2 L1325.6,83.9 L1326.2,84.1 L1326.9,84.6 L1327.6,84.2 L1328.2,84.3 L1328.9,83.7 L1329.5,83.7 L1330.2,83.6 L1330.9,83.2 L1331.5,83.2 L1332.2,83.5 L1332.8,82.9 L1333.5,82.9 L1334.2,82.9 L1334.8,82.7 L1335.5,82.3 L1336.1,81.6 L1336.8,81.3 L1337.5,81.1 L1338.1,80.7 L1338.8,80.8 L1339.4,81.1 L1340.1,80.7 L1340.8,81.0 L1341.4,81.6 L1342.1,81.7 L1342.7,81.7 L1343.4,82.0 L1344.1,81.7 L1344.7,81.6 L1345.4,82.3 L1346.0,82.2 L1346.7,82.4 L1347.4,82.6 L1348.0,82.6 L1348.7,83.0 L1349.3,83.3 L1350.0,83.1 L1350.7,83.1 L1351.3,83.1 L1352.0,83.2 L1352.6,83.2 L1353.3,82.9 L1354.0,82.2 L1354.6,81.9 L1355.3,81.6 L1355.9,82.2 L1356.6,82.1 L1357.3,81.9 L1357.9,82.1 L1358.6,81.9 L1359.2,81.6 L1359.9,81.3 L1360.6,81.1 L1361.2,80.9 L1361.9,81.2 L1362.5,80.4 L1363.2,80.4 L1363.9,80.5 L1364.5,80.9 L1365.2,81.0 L1365.8,80.7 L1366.5,80.8 L1367.2,80.8 L1367.8,80.9 L1368.5,80.4 L1369.1,79.9 L1369.8,80.0 L1370.5,80.1 L1371.1,79.7 L1371.8,79.3 L1372.4,79.2 L1373.1,79.1 L1373.8,79.2 L1374.4,79.1 L1375.1,78.9 L1375.7,78.6 L1376.4,78.3 L1377.1,78.5 L1377.7,78.3 L1378.4,78.3 L1379.0,78.7 L1379.7,78.5 L1380.4,78.8 L1381.0,78.8 L1381.7,79.2 L1382.3,79.7 L1383.0,79.9 L1383.7,80.2 L1384.3,80.3 L1385.0,80.7 L1385.6,80.4 L1386.3,80.0 L1387.0,79.8 L1387.6,79.7 L1388.3,79.7 L1388.9,79.5 L1389.6,78.9 L1390.3,79.3 L1390.9,79.5 L1391.6,79.3 L1392.2,79.0 L1392.9,79.2 L1393.6,78.7 L1394.2,78.4 L1394.9,78.6 L1395.5,78.3 L1396.2,78.4 L1396.9,78.5 L1397.5,78.6 L1398.2,78.3 L1398.8,78.3 L1399.5,78.5 L1400.2,78.5 L1400.8,78.5 L1401.5,78.4 L1402.1,78.3 L1402.8,78.1 L1403.5,78.8 L1404.1,79.0 L1404.8,79.0 L1405.4,79.0 L1406.1,79.1 L1406.8,78.9 L1407.4,78.5 L1408.1,78.7 L1408.7,78.4 L1409.4,78.4 L1410.1,77.9 L1410.7,77.8 L1411.4,77.7 L1412.0,78.0 L1412.7,77.5 L1413.4,77.5 L1414.0,77.4 L1414.7,77.0 L1415.3,77.3 L1416.0,77.3 L1416.7,77.4 L1417.3,77.3 L1418.0,77.6 L1418.6,77.8 L1419.3,77.5 L1420.0,77.5 L1420.6,77.4 L1421.3,77.4 L1421.9,77.4 L1422.6,77.8 L1423.3,77.5 L1423.9,77.3 L1424.6,77.8 L1425.2,78.6 L1425.9,78.7 L1426.6,79.5 L1427.2,79.9 L1427.9,79.9 L1428.5,79.9 L1429.2,79.5 L1429.9,79.5 L1430.5,79.3 L1431.2,79.1 L1431.8,78.1 L1432.5,78.2 L1433.2,78.6 L1433.8,78.1 L1434.5,78.5 L1435.1,78.4 L1435.8,78.3 L1436.5,78.7 L1437.1,79.2 L1437.8,79.5 L1438.4,79.1 L1439.1,79.5 L1439.8,79.7 L1440.4,80.4 L1441.1,80.7 L1441.7,80.6 L1442.4,80.4 L1443.1,80.9 L1443.7,81.1 L1444.4,81.1 L1445.0,81.0 L1445.7,81.0 L1446.4,80.9 L1447.0,81.2 L1447.7,81.8 L1448.3,81.7 L1449.0,81.3 L1449.7,81.0 L1450.3,81.1 L1451.0,80.9 L1451.6,81.1 L1452.3,80.8 L1453.0,80.9 L1453.6,80.5 L1454.3,80.6 L1454.9,80.6 L1455.6,80.5 L1456.3,80.4 L1456.9,80.5 L1457.6,80.9 L1458.2,80.9 L1458.9,80.7 L1459.6,80.6 L1460.2,80.3 L1460.9,80.7 L1461.5,80.7 L1462.2,80.5 L1462.9,80.4 L1463.5,80.8 L1464.2,81.2 L1464.8,81.5 L1465.5,82.0 L1466.2,81.7 L1466.8,81.8 L1467.5,82.0 L1468.1,82.1 L1468.8,82.4 L1469.5,82.6 L1470.1,82.6 L1470.8,82.5 L1471.4,82.7 L1472.1,83.1 L1472.8,82.8 L1473.4,83.7 L1474.1,83.9 L1474.7,83.8 L1475.4,83.7 L1476.1,83.7 L1476.7,83.8 L1477.4,83.4 L1478.0,84.0 L1478.7,83.4 L1479.4,83.3 L1480.0,83.7 L1480.7,83.4 L1481.3,83.3 L1482.0,83.0 L1482.7,83.1 L1483.3,82.8 L1484.0,82.8 L1484.6,82.5 L1485.3,82.9 L1486.0,83.4 L1486.6,84.2 L1487.3,84.5 L1487.9,84.3 L1488.6,84.8 L1489.3,84.7 L1489.9,85.2 L1490.6,85.4 L1491.2,85.4 L1491.9,84.9 L1492.6,84.7 L1493.2,84.7 L1493.9,84.5 L1494.5,84.8 L1495.2,85.2 L1495.9,85.7 L1496.5,85.9 L1497.2,85.9 L1497.8,86.2 L1498.5,86.4 L1499.2,86.8 L1499.8,87.3 L1500.5,87.3 L1501.1,87.5 L1501.8,87.7 L1502.5,87.8 L1503.1,88.4 L1503.8,88.5 L1504.4,88.6 L1505.1,88.2 L1505.8,88.7 L1506.4,88.6 L1507.1,88.6 L1507.7,88.8 L1508.4,87.9 L1509.1,88.2 L1509.7,88.6 L1510.4,88.5 L1511.0,88.8 L1511.7,89.1 L1512.4,89.1 L1513.0,89.0 L1513.7,89.6 L1514.3,89.9 L1515.0,89.3 L1515.7,89.7 L1516.3,89.4 L1517.0,89.3 L1517.6,89.1 L1518.3,89.1 L1519.0,89.2 L1519.6,89.5 L1520.3,89.7 L1520.9,89.8 L1521.6,90.0 L1522.3,90.2 L1522.9,90.2 L1523.5,90.3 L1523.5,126.0 L1522.9,126.2 L1522.3,126.2 L1521.6,125.9 L1520.9,125.6 L1520.3,125.8 L1519.6,125.7 L1519.0,125.9 L1518.3,125.6 L1517.6,125.8 L1517.0,125.6 L1516.3,125.2 L1515.7,125.1 L1515.0,124.9 L1514.3,125.2 L1513.7,124.8 L1513.0,124.7 L1512.4,124.3 L1511.7,123.7 L1511.0,123.7 L1510.4,124.2 L1509.7,124.8 L1509.1,124.8 L1508.4,124.7 L1507.7,124.7 L1507.1,124.7 L1506.4,124.8 L1505.8,124.8 L1505.1,124.2 L1504.4,124.0 L1503.8,124.1 L1503.1,123.7 L1502.5,123.8 L1501.8,123.8 L1501.1,124.1 L1500.5,124.3 L1499.8,124.3 L1499.2,124.5 L1498.5,124.5 L1497.8,124.4 L1497.2,124.6 L1496.5,124.9 L1495.9,124.4 L1495.2,124.0 L1494.5,123.5 L1493.9,123.2 L1493.2,123.3 L1492.6,123.5 L1491.9,123.7 L1491.2,123.2 L1490.6,123.3 L1489.9,122.5 L1489.3,122.7 L1488.6,122.7 L1487.9,122.6 L1487.3,123.1 L1486.6,122.6 L1486.0,122.4 L1485.3,122.0 L1484.6,122.0 L1484.0,121.6 L1483.3,121.3 L1482.7,121.2 L1482.0,120.6 L1481.3,120.4 L1480.7,120.2 L1480.0,120.3 L1479.4,120.2 L1478.7,120.3 L1478.0,120.0 L1477.4,119.8 L1476.7,119.9 L1476.1,119.9 L1475.4,120.0 L1474.7,120.0 L1474.1,120.3 L1473.4,120.7 L1472.8,120.2 L1472.1,119.9 L1471.4,119.4 L1470.8,118.9 L1470.1,119.1 L1469.5,119.0 L1468.8,119.0 L1468.1,118.5 L1467.5,118.7 L1466.8,119.2 L1466.2,119.3 L1465.5,119.4 L1464.8,119.3 L1464.2,119.5 L1463.5,119.6 L1462.9,119.3 L1462.2,119.5 L1461.5,119.7 L1460.9,120.0 L1460.2,120.0 L1459.6,120.3 L1458.9,120.4 L1458.2,120.7 L1457.6,120.8 L1456.9,120.9 L1456.3,121.1 L1455.6,121.2 L1454.9,120.8 L1454.3,121.1 L1453.6,120.6 L1453.0,120.3 L1452.3,119.9 L1451.6,120.1 L1451.0,120.2 L1450.3,120.0 L1449.7,120.6 L1449.0,120.6 L1448.3,120.6 L1447.7,120.8 L1447.0,121.3 L1446.4,121.1 L1445.7,121.2 L1445.0,121.3 L1444.4,121.2 L1443.7,120.7 L1443.1,121.3 L1442.4,121.2 L1441.7,121.2 L1441.1,121.1 L1440.4,121.3 L1439.8,121.4 L1439.1,121.4 L1438.4,122.0 L1437.8,122.2 L1437.1,122.2 L1436.5,121.8 L1435.8,121.7 L1435.1,121.5 L1434.5,121.2 L1433.8,121.4 L1433.2,121.5 L1432.5,121.1 L1431.8,121.2 L1431.2,121.6 L1430.5,121.9 L1429.9,122.4 L1429.2,122.4 L1428.5,122.5 L1427.9,122.4 L1427.2,123.0 L1426.6,123.0 L1425.9,123.3 L1425.2,123.5 L1424.6,123.0 L1423.9,123.2 L1423.3,123.0 L1422.6,122.5 L1421.9,122.2 L1421.3,122.4 L1420.6,122.2 L1420.0,122.1 L1419.3,122.1 L1418.6,122.4 L1418.0,122.6 L1417.3,122.8 L1416.7,123.1 L1416.0,123.0 L1415.3,122.5 L1414.7,122.6 L1414.0,122.5 L1413.4,122.2 L1412.7,121.9 L1412.0,121.9 L1411.4,121.6 L1410.7,121.7 L1410.1,121.6 L1409.4,121.6 L1408.7,122.2 L1408.1,122.3 L1407.4,122.1 L1406.8,122.3 L1406.1,122.6 L1405.4,122.9 L1404.8,123.4 L1404.1,123.5 L1403.5,123.6 L1402.8,124.6 L1402.1,125.0 L1401.5,125.0 L1400.8,124.7 L1400.2,124.7 L1399.5,124.7 L1398.8,125.2 L1398.2,125.5 L1397.5,125.3 L1396.9,125.3 L1396.2,125.5 L1395.5,126.1 L1394.9,126.4 L1394.2,126.4 L1393.6,126.1 L1392.9,126.1 L1392.2,126.1 L1391.6,126.6 L1390.9,126.1 L1390.3,126.4 L1389.6,126.5 L1388.9,126.9 L1388.3,127.3 L1387.6,127.2 L1387.0,127.5 L1386.3,127.5 L1385.6,127.4 L1385.0,127.6 L1384.3,127.3 L1383.7,127.5 L1383.0,127.4 L1382.3,127.4 L1381.7,127.4 L1381.0,127.5 L1380.4,127.7 L1379.7,128.1 L1379.0,128.5 L1378.4,128.2 L1377.7,128.7 L1377.1,128.6 L1376.4,128.8 L1375.7,128.7 L1375.1,128.8 L1374.4,128.2 L1373.8,128.7 L1373.1,129.1 L1372.4,129.3 L1371.8,130.2 L1371.1,130.0 L1370.5,129.5 L1369.8,129.3 L1369.1,129.3 L1368.5,128.7 L1367.8,128.6 L1367.2,128.7 L1366.5,128.6 L1365.8,129.1 L1365.2,129.6 L1364.5,129.6 L1363.9,130.0 L1363.2,130.0 L1362.5,130.4 L1361.9,130.5 L1361.2,130.4 L1360.6,130.1 L1359.9,130.5 L1359.2,130.6 L1358.6,130.9 L1357.9,130.4 L1357.3,130.7 L1356.6,131.0 L1355.9,131.2 L1355.3,131.6 L1354.6,131.8 L1354.0,132.1 L1353.3,131.8 L1352.6,132.3 L1352.0,131.8 L1351.3,132.1 L1350.7,132.6 L1350.0,132.7 L1349.3,132.7 L1348.7,133.1 L1348.0,133.5 L1347.4,133.7 L1346.7,133.8 L1346.0,133.8 L1345.4,134.1 L1344.7,134.6 L1344.1,134.7 L1343.4,134.9 L1342.7,135.0 L1342.1,135.3 L1341.4,135.7 L1340.8,135.7 L1340.1,135.9 L1339.4,136.2 L1338.8,136.1 L1338.1,136.1 L1337.5,136.1 L1336.8,135.8 L1336.1,136.1 L1335.5,136.2 L1334.8,135.8 L1334.2,135.4 L1333.5,135.5 L1332.8,135.5 L1332.2,135.5 L1331.5,135.2 L1330.9,134.4 L1330.2,134.1 L1329.5,133.3 L1328.9,133.2 L1328.2,133.0 L1327.6,132.4 L1326.9,132.5 L1326.2,132.8 L1325.6,133.2 L1324.9,133.1 L1324.3,133.6 L1323.6,134.0 L1322.9,134.7 L1322.3,134.8 L1321.6,135.0 L1321.0,135.0 L1320.3,134.6 L1319.6,134.6 L1319.0,134.5 L1318.3,134.1 L1317.7,133.5 L1317.0,133.7 L1316.3,133.4 L1315.7,133.3 L1315.0,133.6 L1314.4,133.6 L1313.7,133.5 L1313.0,133.7 L1312.4,133.3 L1311.7,133.1 L1311.1,133.1 L1310.4,132.9 L1309.7,132.8 L1309.1,132.4 L1308.4,132.1 L1307.8,131.8 L1307.1,131.5 L1306.4,131.0 L1305.8,130.9 L1305.1,130.6 L1304.5,130.5 L1303.8,130.6 L1303.1,130.2 L1302.5,130.3 L1301.8,130.4 L1301.2,130.6 L1300.5,130.4 L1299.8,130.4 L1299.2,129.5 L1298.5,129.4 L1297.9,129.5 L1297.2,129.1 L1296.5,128.8 L1295.9,129.2 L1295.2,128.9 L1294.6,128.4 L1293.9,128.8 L1293.2,128.5 L1292.6,128.4 L1291.9,127.8 L1291.3,128.1 L1290.6,127.9 L1289.9,127.4 L1289.3,127.3 L1288.6,127.0 L1288.0,127.1 L1287.3,127.1 L1286.6,127.7 L1286.0,127.4 L1285.3,127.3 L1284.7,128.0 L1284.0,128.1 L1283.3,128.1 L1282.7,128.0 L1282.0,128.1 L1281.4,128.3 L1280.7,128.7 L1280.0,129.0 L1279.4,129.0 L1278.7,128.8 L1278.1,128.9 L1277.4,129.3 L1276.7,129.2 L1276.1,129.6 L1275.4,129.9 L1274.8,129.7 L1274.1,129.8 L1273.4,129.9 L1272.8,129.5 L1272.1,130.0 L1271.5,130.0 L1270.8,129.5 L1270.1,129.0 L1269.5,129.0 L1268.8,129.0 L1268.2,129.0 L1267.5,129.1 L1266.8,128.5 L1266.2,128.4 L1265.5,128.3 L1264.9,128.4 L1264.2,128.6 L1263.5,128.1 L1262.9,127.9 L1262.2,127.7 L1261.6,127.3 L1260.9,127.5 L1260.2,127.2 L1259.6,127.4 L1258.9,127.3 L1258.3,127.4 L1257.6,127.6 L1256.9,127.7 L1256.3,127.8 L1255.6,127.4 L1255.0,127.0 L1254.3,126.7 L1253.6,126.3 L1253.0,125.9 L1252.3,125.9 L1251.7,125.8 L1251.0,125.8 L1250.3,125.9 L1249.7,126.3 L1249.0,125.9 L1248.4,125.9 L1247.7,125.9 L1247.0,125.8 L1246.4,125.6 L1245.7,125.9 L1245.1,125.2 L1244.4,125.1 L1243.7,125.3 L1243.1,125.1 L1242.4,124.6 L1241.8,124.6 L1241.1,124.2 L1240.4,123.8 L1239.8,123.9 L1239.1,123.6 L1238.5,123.6 L1237.8,123.6 L1237.1,123.7 L1236.5,122.9 L1235.8,123.3 L1235.2,123.1 L1234.5,123.2 L1233.8,123.2 L1233.2,123.1 L1232.5,122.7 L1231.9,122.4 L1231.2,122.4 L1230.5,122.1 L1229.9,121.9 L1229.2,122.2 L1228.6,121.6 L1227.9,121.5 L1227.2,121.3 L1226.6,121.2 L1225.9,121.1 L1225.3,121.4 L1224.6,120.6 L1223.9,120.2 L1223.3,119.9 L1222.6,119.3 L1222.0,119.4 L1221.3,119.4 L1220.6,119.2 L1220.0,118.8 L1219.3,119.0 L1218.7,119.1 L1218.0,119.3 L1217.3,119.4 L1216.7,119.2 L1216.0,119.3 L1215.4,119.4 L1214.7,119.3 L1214.0,119.5 L1213.4,119.3 L1212.7,118.9 L1212.1,118.7 L1211.4,118.8 L1210.7,118.2 L1210.1,118.0 L1209.4,117.3 L1208.8,117.0 L1208.1,117.2 L1207.4,116.9 L1206.8,116.6 L1206.1,116.4 L1205.5,116.4 L1204.8,116.4 L1204.1,116.3 L1203.5,116.2 L1202.8,115.4 L1202.2,115.0 L1201.5,114.7 L1200.8,114.8 L1200.2,114.5 L1199.5,114.2 L1198.9,114.4 L1198.2,114.4 L1197.5,115.0 L1196.9,114.5 L1196.2,114.7 L1195.6,114.1 L1194.9,114.2 L1194.2,114.2 L1193.6,113.4 L1192.9,113.5 L1192.3,113.2 L1191.6,113.3 L1190.9,113.0 L1190.3,113.4 L1189.6,113.5 L1189.0,113.2 L1188.3,113.4 L1187.6,113.2 L1187.0,113.1 L1186.3,112.3 L1185.7,112.4 L1185.0,111.7 L1184.3,111.2 L1183.7,111.1 L1183.0,110.7 L1182.4,110.8 L1181.7,110.9 L1181.0,111.3 L1180.4,110.8 L1179.7,110.4 L1179.1,110.2 L1178.4,110.3 L1177.7,110.6 L1177.1,110.3 L1176.4,110.2 L1175.8,109.9 L1175.1,109.5 L1174.4,109.3 L1173.8,109.5 L1173.1,109.5 L1172.5,109.4 L1171.8,109.2 L1171.1,108.9 L1170.5,108.8 L1169.8,109.2 L1169.2,108.9 L1168.5,109.0 L1167.8,109.0 L1167.2,108.5 L1166.5,108.4 L1165.9,108.8 L1165.2,109.1 L1164.5,108.8 L1163.9,108.9 L1163.2,108.4 L1162.6,108.0 L1161.9,108.1 L1161.2,108.2 L1160.6,107.9 L1159.9,108.3 L1159.3,108.6 L1158.6,108.1 L1157.9,107.9 L1157.3,108.2 L1156.6,107.8 L1156.0,107.3 L1155.3,106.8 L1154.6,106.6 L1154.0,106.2 L1153.3,105.9 L1152.7,105.5 L1152.0,105.9 L1151.3,106.3 L1150.7,106.5 L1150.0,106.6 L1149.4,106.1 L1148.7,106.2 L1148.0,106.4 L1147.4,106.4 L1146.7,105.4 L1146.1,105.1 L1145.4,105.2 L1144.7,105.3 L1144.1,105.3 L1143.4,105.1 L1142.8,104.6 L1142.1,104.0 L1141.4,104.0 L1140.8,103.4 L1140.1,102.6 L1139.5,102.5 L1138.8,102.1 L1138.1,101.9 L1137.5,101.9 L1136.8,102.2 L1136.2,102.6 L1135.5,102.6 L1134.8,103.2 L1134.2,103.1 L1133.5,103.6 L1132.9,104.0 L1132.2,103.7 L1131.5,103.9 L1130.9,103.3 L1130.2,104.0 L1129.6,104.0 L1128.9,103.8 L1128.2,103.8 L1127.6,103.5 L1126.9,103.7 L1126.3,103.7 L1125.6,103.7 L1124.9,103.3 L1124.3,103.3 L1123.6,103.2 L1123.0,103.4 L1122.3,103.8 L1121.6,103.8 L1121.0,103.8 L1120.3,103.7 L1119.7,103.5 L1119.0,103.6 L1118.3,103.4 L1117.7,103.0 L1117.0,103.0 L1116.4,102.8 L1115.7,102.6 L1115.0,102.6 L1114.4,102.4 L1113.7,101.8 L1113.1,101.6 L1112.4,102.0 L1111.7,101.8 L1111.1,102.0 L1110.4,102.0 L1109.8,101.5 L1109.1,102.1 L1108.4,102.4 L1107.8,102.6 L1107.1,102.2 L1106.5,102.2 L1105.8,102.5 L1105.1,102.8 L1104.5,102.7 L1103.8,102.5 L1103.2,102.2 L1102.5,102.0 L1101.8,102.3 L1101.2,102.0 L1100.5,102.0 L1099.9,101.9 L1099.2,102.3 L1098.5,102.7 L1097.9,102.8 L1097.2,102.3 L1096.6,102.2 L1095.9,102.4 L1095.2,102.6 L1094.6,102.5 L1093.9,102.0 L1093.3,101.9 L1092.6,101.8 L1091.9,101.9 L1091.3,101.6 L1090.6,101.2 L1090.0,101.2 L1089.3,101.4 L1088.6,101.5 L1088.0,101.7 L1087.3,102.0 L1086.7,102.6 L1086.0,102.7 L1085.3,102.9 L1084.7,102.9 L1084.0,102.5 L1083.4,102.6 L1082.7,102.0 L1082.0,101.9 L1081.4,101.6 L1080.7,101.2 L1080.1,101.2 L1079.4,101.1 L1078.7,101.3 L1078.1,101.1 L1077.4,101.2 L1076.8,101.2 L1076.1,101.5 L1075.4,101.6 L1074.8,101.6 L1074.1,102.0 L1073.5,101.6 L1072.8,101.5 L1072.1,101.4 L1071.5,101.4 L1070.8,101.6 L1070.2,101.8 L1069.5,102.2 L1068.8,102.1 L1068.2,102.5 L1067.5,102.5 L1066.9,102.2 L1066.2,102.3 L1065.5,102.0 L1064.9,102.1 L1064.2,102.1 L1063.6,101.8 L1062.9,102.2 L1062.2,102.5 L1061.6,102.6 L1060.9,102.3 L1060.3,102.0 L1059.6,102.1 L1058.9,102.1 L1058.3,102.7 L1057.6,102.4 L1057.0,102.0 L1056.3,102.2 L1055.6,102.2 L1055.0,102.7 L1054.3,102.7 L1053.7,102.8 L1053.0,102.6 L1052.3,103.2 L1051.7,103.2 L1051.0,103.3 L1050.4,102.9 L1049.7,102.2 L1049.0,102.0 L1048.4,101.1 L1047.7,101.7 L1047.1,101.8 L1046.4,101.8 L1045.7,101.7 L1045.1,101.7 L1044.4,101.4 L1043.8,101.2 L1043.1,101.4 L1042.4,101.0 L1041.8,100.4 L1041.1,100.3 L1040.5,100.2 L1039.8,100.0 L1039.1,100.0 L1038.5,100.1 L1037.8,100.3 L1037.2,100.0 L1036.5,100.2 L1035.8,100.5 L1035.2,100.8 L1034.5,100.7 L1033.9,101.1 L1033.2,101.2 L1032.5,101.4 L1031.9,101.6 L1031.2,101.5 L1030.6,101.1 L1029.9,101.3 L1029.2,101.2 L1028.6,101.8 L1027.9,101.3 L1027.3,101.6 L1026.6,101.5 L1025.9,101.7 L1025.3,102.3 L1024.6,102.6 L1024.0,102.6 L1023.3,102.7 L1022.6,103.1 L1022.0,103.2 L1021.3,103.6 L1020.7,103.2 L1020.0,103.5 L1019.3,103.3 L1018.7,103.4 L1018.0,103.5 L1017.4,103.7 L1016.7,103.6 L1016.0,104.1 L1015.4,104.4 L1014.7,104.1 L1014.1,103.7 L1013.4,103.5 L1012.7,103.4 L1012.1,103.1 L1011.4,103.4 L1010.8,103.6 L1010.1,104.1 L1009.4,104.9 L1008.8,104.7 L1008.1,104.9 L1007.5,104.6 L1006.8,104.9 L1006.1,104.9 L1005.5,104.9 L1004.8,105.2 L1004.2,104.7 L1003.5,104.9 L1002.8,104.9 L1002.2,105.1 L1001.5,105.4 L1000.9,105.0 L1000.2,105.2 L999.5,105.1 L998.9,105.6 L998.2,105.6 L997.6,105.8 L996.9,105.4 L996.2,105.4 L995.6,105.7 L994.9,105.4 L994.3,105.9 L993.6,106.3 L992.9,106.2 L992.3,106.5 L991.6,106.2 L991.0,105.8 L990.3,105.9 L989.6,106.1 L989.0,106.1 L988.3,106.3 L987.7,106.6 L987.0,106.7 L986.3,107.2 L985.7,107.3 L985.0,107.2 L984.4,107.4 L983.7,107.7 L983.0,107.7 L982.4,107.8 L981.7,107.6 L981.1,107.5 L980.4,107.5 L979.7,107.8 L979.1,107.9 L978.4,107.9 L977.8,108.0 L977.1,108.4 L976.4,108.0 L975.8,108.1 L975.1,108.5 L974.5,108.3 L973.8,108.4 L973.1,108.7 L972.5,109.1 L971.8,108.8 L971.2,109.0 L970.5,109.0 L969.8,108.9 L969.2,108.9 L968.5,108.1 L967.9,108.0 L967.2,107.7 L966.5,108.1 L965.9,108.5 L965.2,108.5 L964.6,108.8 L963.9,108.9 L963.2,109.5 L962.6,109.8 L961.9,109.9 L961.3,110.3 L960.6,110.2 L959.9,110.2 L959.3,109.5 L958.6,109.6 L958.0,110.0 L957.3,109.5 L956.6,109.8 L956.0,109.8 L955.3,110.2 L954.7,110.6 L954.0,110.6 L953.3,111.2 L952.7,110.7 L952.0,111.3 L951.4,110.7 L950.7,110.3 L950.0,109.9 L949.4,109.5 L948.7,110.1 L948.1,110.1 L947.4,110.2 L946.7,109.9 L946.1,109.8 L945.4,109.5 L944.8,109.7 L944.1,109.9 L943.4,110.0 L942.8,109.6 L942.1,109.1 L941.5,108.9 L940.8,109.4 L940.1,109.9 L939.5,109.8 L938.8,109.8 L938.2,109.5 L937.5,109.7 L936.8,109.5 L936.2,108.8 L935.5,108.7 L934.9,108.0 L934.2,107.9 L933.5,107.2 L932.9,106.7 L932.2,106.7 L931.6,107.2 L930.9,107.5 L930.2,107.8 L929.6,107.8 L928.9,107.0 L928.3,107.0 L927.6,106.8 L926.9,107.1 L926.3,106.6 L925.6,106.6 L925.0,106.4 L924.3,106.0 L923.6,106.1 L923.0,105.4 L922.3,105.3 L921.7,104.5 L921.0,104.1 L920.3,104.2 L919.7,103.9 L919.0,103.6 L918.4,103.3 L917.7,103.3 L917.0,103.6 L916.4,104.0 L915.7,103.7 L915.1,103.7 L914.4,104.1 L913.7,104.2 L913.1,104.6 L912.4,104.7 L911.8,103.9 L911.1,103.8 L910.4,103.5 L909.8,103.6 L909.1,102.9 L908.5,102.8 L907.8,102.5 L907.1,102.4 L906.5,102.5 L905.8,102.4 L905.2,101.8 L904.5,101.6 L903.8,101.9 L903.2,102.0 L902.5,101.7 L901.9,101.8 L901.2,102.0 L900.5,101.9 L899.9,102.4 L899.2,102.2 L898.6,102.2 L897.9,102.2 L897.2,102.6 L896.6,102.9 L895.9,102.8 L895.3,102.8 L894.6,102.3 L893.9,101.8 L893.3,101.3 L892.6,100.7 L892.0,100.2 L891.3,99.8 L890.6,99.7 L890.0,99.4 L889.3,99.5 L888.7,99.9 L888.0,100.3 L887.3,100.3 L886.7,100.3 L886.0,100.3 L885.4,100.6 L884.7,100.5 L884.0,100.8 L883.4,100.6 L882.7,100.5 L882.1,100.2 L881.4,100.0 L880.7,99.7 L880.1,99.7 L879.4,99.8 L878.8,99.6 L878.1,99.8 L877.4,100.0 L876.8,99.5 L876.1,100.2 L875.5,100.0 L874.8,100.4 L874.1,100.3 L873.5,100.5 L872.8,100.3 L872.2,100.2 L871.5,100.4 L870.8,100.1 L870.2,100.2 L869.5,99.7 L868.9,99.6 L868.2,99.2 L867.5,98.9 L866.9,98.7 L866.2,98.2 L865.6,98.5 L864.9,98.5 L864.2,98.5 L863.6,98.4 L862.9,97.8 L862.3,97.5 L861.6,97.6 L860.9,97.4 L860.3,97.5 L859.6,97.3 L859.0,97.0 L858.3,97.3 L857.6,97.4 L857.0,97.5 L856.3,97.3 L855.7,97.4 L855.0,97.3 L854.3,97.2 L853.7,97.2 L853.0,97.2 L852.4,97.3 L851.7,97.1 L851.0,97.4 L850.4,97.7 L849.7,97.9 L849.1,97.7 L848.4,97.8 L847.7,97.8 L847.1,97.5 L846.4,98.1 L845.8,97.8 L845.1,97.8 L844.4,97.4 L843.8,97.6 L843.1,98.0 L842.5,98.6 L841.8,98.7 L841.1,99.1 L840.5,99.1 L839.8,99.4 L839.2,99.8 L838.5,99.6 L837.8,99.1 L837.2,99.0 L836.5,99.1 L835.9,99.1 L835.2,98.7 L834.5,98.4 L833.9,98.2 L833.2,98.4 L832.6,98.9 L831.9,98.5 L831.2,99.1 L830.6,98.8 L829.9,98.6 L829.3,98.9 L828.6,99.0 L827.9,98.8 L827.3,98.9 L826.6,98.8 L826.0,98.7 L825.3,98.6 L824.6,98.6 L824.0,98.2 L823.3,98.1 L822.7,97.7 L822.0,97.3 L821.3,97.2 L820.7,97.2 L820.0,97.2 L819.4,97.4 L818.7,97.8 L818.0,98.0 L817.4,98.5 L816.7,98.5 L816.1,98.5 L815.4,98.5 L814.7,98.8 L814.1,98.6 L813.4,98.7 L812.8,98.7 L812.1,98.8 L811.4,98.5 L810.8,98.4 L810.1,98.6 L809.5,98.3 L808.8,98.1 L808.1,98.1 L807.5,97.9 L806.8,98.0 L806.2,98.2 L805.5,98.9 L804.8,98.9 L804.2,99.0 L803.5,99.1 L802.9,99.8 L802.2,99.8 L801.5,99.1 L800.9,99.4 L800.2,98.9 L799.6,99.3 L798.9,99.4 L798.2,99.3 L797.6,99.2 L796.9,99.9 L796.3,100.4 L795.6,100.2 L794.9,100.6 L794.3,100.5 L793.6,100.6 L793.0,100.8 L792.3,100.6 L791.6,100.6 L791.0,100.5 L790.3,100.8 L789.7,100.3 L789.0,100.6 L788.3,100.5 L787.7,100.3 L787.0,100.7 L786.4,100.9 L785.7,100.9 L785.0,101.1 L784.4,101.6 L783.7,102.1 L783.1,101.7 L782.4,102.3 L781.7,102.3 L781.1,102.2 L780.4,102.5 L779.8,102.8 L779.1,102.7 L778.4,103.0 L777.8,103.4 L777.1,103.6 L776.5,104.2 L775.8,104.3 L775.1,104.5 L774.5,104.9 L773.8,105.2 L773.2,105.3 L772.5,105.5 L771.8,105.0 L771.2,104.8 L770.5,105.0 L769.9,104.6 L769.2,104.1 L768.5,104.0 L767.9,104.6 L767.2,104.8 L766.6,104.8 L765.9,105.2 L765.2,105.3 L764.6,106.4 L763.9,106.3 L763.3,107.1 L762.6,106.9 L761.9,107.1 L761.3,107.6 L760.6,108.3 L760.0,108.4 L759.3,108.7 L758.6,108.8 L758.0,108.8 L757.3,109.2 L756.7,109.3 L756.0,109.6 L755.3,109.4 L754.7,109.4 L754.0,110.0 L753.4,110.2 L752.7,110.1 L752.0,109.9 L751.4,110.2 L750.7,110.4 L750.1,110.1 L749.4,110.2 L748.7,110.3 L748.1,110.6 L747.4,110.6 L746.8,111.1 L746.1,110.9 L745.4,111.4 L744.8,111.5 L744.1,111.7 L743.5,111.7 L742.8,111.7 L742.1,111.9 L741.5,111.9 L740.8,112.1 L740.2,112.4 L739.5,112.2 L738.8,112.5 L738.2,112.6 L737.5,112.4 L736.9,112.9 L736.2,112.8 L735.5,113.2 L734.9,113.5 L734.2,113.5 L733.6,114.0 L732.9,114.1 L732.2,114.5 L731.6,114.4 L730.9,114.3 L730.3,114.5 L729.6,114.1 L728.9,114.2 L728.3,113.9 L727.6,114.2 L727.0,113.8 L726.3,113.9 L725.6,113.5 L725.0,113.5 L724.3,113.5 L723.7,113.4 L723.0,112.9 L722.3,112.7 L721.7,112.7 L721.0,112.5 L720.4,111.9 L719.7,111.7 L719.0,111.9 L718.4,111.8 L717.7,112.1 L717.1,111.4 L716.4,111.9 L715.7,111.8 L715.1,111.7 L714.4,111.8 L713.8,112.0 L713.1,111.9 L712.4,111.9 L711.8,112.2 L711.1,111.5 L710.5,111.3 L709.8,111.5 L709.1,111.2 L708.5,111.2 L707.8,111.3 L707.2,111.4 L706.5,110.6 L705.8,110.4 L705.2,110.2 L704.5,109.9 L703.9,110.3 L703.2,110.1 L702.5,110.3 L701.9,109.7 L701.2,109.7 L700.6,110.0 L699.9,110.6 L699.2,110.4 L698.6,110.1 L697.9,110.5 L697.3,110.6 L696.6,110.6 L695.9,110.2 L695.3,110.2 L694.6,109.6 L694.0,109.5 L693.3,109.5 L692.6,109.6 L692.0,109.7 L691.3,109.8 L690.7,110.0 L690.0,110.3 L689.3,110.2 L688.7,109.8 L688.0,109.3 L687.4,109.3 L686.7,109.1 L686.0,109.4 L685.4,109.1 L684.7,108.9 L684.1,109.3 L683.4,109.3 L682.7,109.5 L682.1,109.7 L681.4,110.3 L680.8,110.5 L680.1,110.8 L679.4,111.3 L678.8,111.3 L678.1,111.3 L677.5,111.1 L676.8,111.0 L676.1,111.0 L675.5,110.7 L674.8,110.5 L674.2,110.2 L673.5,109.8 L672.8,109.6 L672.2,109.8 L671.5,109.4 L670.9,109.1 L670.2,109.2 L669.5,109.4 L668.9,109.1 L668.2,109.0 L667.6,109.3 L666.9,108.6 L666.2,108.7 L665.6,108.6 L664.9,108.8 L664.3,108.8 L663.6,109.0 L662.9,108.7 L662.3,108.3 L661.6,108.3 L661.0,108.2 L660.3,108.4 L659.6,107.9 L659.0,107.9 L658.3,108.1 L657.7,108.2 L657.0,108.4 L656.3,108.2 L655.7,108.3 L655.0,108.2 L654.4,108.6 L653.7,108.5 L653.0,107.9 L652.4,108.2 L651.7,107.9 L651.1,107.7 L650.4,107.7 L649.7,107.9 L649.1,107.4 L648.4,107.1 L647.8,106.8 L647.1,107.0 L646.4,106.4 L645.8,106.2 L645.1,105.9 L644.5,105.7 L643.8,105.8 L643.1,106.0 L642.5,106.6 L641.8,106.9 L641.2,107.1 L640.5,106.9 L639.8,106.9 L639.2,106.9 L638.5,106.5 L637.9,106.0 L637.2,105.9 L636.5,105.7 L635.9,105.3 L635.2,105.7 L634.6,106.0 L633.9,106.0 L633.2,106.3 L632.6,106.2 L631.9,105.9 L631.3,105.9 L630.6,105.9 L629.9,105.5 L629.3,105.4 L628.6,105.5 L628.0,105.8 L627.3,106.1 L626.6,106.8 L626.0,106.9 L625.3,106.7 L624.7,107.0 L624.0,106.8 L623.3,107.2 L622.7,106.8 L622.0,107.1 L621.4,107.2 L620.7,107.4 L620.0,108.0 L619.4,108.0 L618.7,108.1 L618.1,108.0 L617.4,108.0 L616.7,107.6 L616.1,107.6 L615.4,107.7 L614.8,107.5 L614.1,107.6 L613.4,107.6 L612.8,107.9 L612.1,108.2 L611.5,107.6 L610.8,107.9 L610.1,107.6 L609.5,107.7 L608.8,107.2 L608.2,106.8 L607.5,106.3 L606.8,106.1 L606.2,105.6 L605.5,105.7 L604.9,105.6 L604.2,105.2 L603.5,105.4 L602.9,105.8 L602.2,105.9 L601.6,105.9 L600.9,105.5 L600.2,105.3 L599.6,105.1 L598.9,105.2 L598.3,104.9 L597.6,104.8 L596.9,105.2 L596.3,105.1 L595.6,105.5 L595.0,105.4 L594.3,105.7 L593.6,105.5 L593.0,105.7 L592.3,105.5 L591.7,105.6 L591.0,105.4 L590.3,105.4 L589.7,105.2 L589.0,104.8 L588.4,105.1 L587.7,105.0 L587.0,105.3 L586.4,105.4 L585.7,105.5 L585.1,105.4 L584.4,105.7 L583.7,105.9 L583.1,106.2 L582.4,106.7 L581.8,106.6 L581.1,106.9 L580.4,107.1 L579.8,107.2 L579.1,107.1 L578.5,107.4 L577.8,106.8 L577.1,106.1 L576.5,106.1 L575.8,105.9 L575.2,106.1 L574.5,106.2 L573.8,106.5 L573.2,106.1 L572.5,106.8 L571.9,106.5 L571.2,106.2 L570.5,106.0 L569.9,106.0 L569.2,105.6 L568.6,105.2 L567.9,105.2 L567.2,104.9 L566.6,105.6 L565.9,105.5 L565.3,105.3 L564.6,105.1 L563.9,105.0 L563.3,105.0 L562.6,105.0 L562.0,105.0 L561.3,104.7 L560.6,104.0 L560.0,104.4 L559.3,104.4 L558.7,104.4 L558.0,104.3 L557.3,104.5 L556.7,104.3 L556.0,104.5 L555.4,104.8 L554.7,104.8 L554.0,104.9 L553.4,105.1 L552.7,104.8 L552.1,104.3 L551.4,104.4 L550.7,104.5 L550.1,104.3 L549.4,104.1 L548.8,103.9 L548.1,103.6 L547.4,103.4 L546.8,103.3 L546.1,103.0 L545.5,103.0 L544.8,103.5 L544.1,103.4 L543.5,103.7 L542.8,103.8 L542.2,103.6 L541.5,104.1 L540.8,104.9 L540.2,104.8 L539.5,104.9 L538.9,105.0 L538.2,105.1 L537.5,105.2 L536.9,105.3 L536.2,104.7 L535.6,104.2 L534.9,103.9 L534.2,103.4 L533.6,103.1 L532.9,103.1 L532.3,103.4 L531.6,103.6 L530.9,103.9 L530.3,104.1 L529.6,104.2 L529.0,104.5 L528.3,104.3 L527.6,104.4 L527.0,104.0 L526.3,103.9 L525.7,103.4 L525.0,103.0 L524.3,102.6 L523.7,102.0 L523.0,101.6 L522.4,102.1 L521.7,102.2 L521.0,102.0 L520.4,102.4 L519.7,102.4 L519.1,101.8 L518.4,101.7 L517.7,101.0 L517.1,101.4 L516.4,101.6 L515.8,101.4 L515.1,101.1 L514.4,100.9 L513.8,101.2 L513.1,100.8 L512.5,101.0 L511.8,100.4 L511.1,100.3 L510.5,100.3 L509.8,100.4 L509.2,100.8 L508.5,101.1 L507.8,100.8 L507.2,100.8 L506.5,100.4 L505.9,100.5 L505.2,100.6 L504.5,100.8 L503.9,100.9 L503.2,101.3 L502.6,101.1 L501.9,101.4 L501.2,101.9 L500.6,101.3 L499.9,101.1 L499.3,101.4 L498.6,101.3 L497.9,101.3 L497.3,101.1 L496.6,100.5 L496.0,100.0 L495.3,100.1 L494.6,100.3 L494.0,100.3 L493.3,100.2 L492.7,100.4 L492.0,100.4 L491.3,100.4 L490.7,100.4 L490.0,100.2 L489.4,99.8 L488.7,99.5 L488.0,99.5 L487.4,99.3 L486.7,99.3 L486.1,99.9 L485.4,99.4 L484.7,99.4 L484.1,99.6 L483.4,99.5 L482.8,99.0 L482.1,99.0 L481.4,98.7 L480.8,98.9 L480.1,99.3 L479.5,99.3 L478.8,99.5 L478.1,99.1 L477.5,99.2 L476.8,99.3 L476.2,99.3 L475.5,98.9 L474.8,98.4 L474.2,98.8 L473.5,99.1 L472.9,99.1 L472.2,98.8 L471.5,98.6 L470.9,99.3 L470.2,99.3 L469.6,99.1 L468.9,98.6 L468.2,98.7 L467.6,98.6 L466.9,99.0 L466.3,98.7 L465.6,98.5 L464.9,98.5 L464.3,98.2 L463.6,98.5 L463.0,98.5 L462.3,98.2 L461.6,98.1 L461.0,98.3 L460.3,98.5 L459.7,98.2 L459.0,98.7 L458.3,98.7 L457.7,98.6 L457.0,98.8 L456.4,98.7 L455.7,98.7 L455.0,98.8 L454.4,99.3 L453.7,99.2 L453.1,99.2 L452.4,99.3 L451.7,99.2 L451.1,99.0 L450.4,99.1 L449.8,98.8 L449.1,98.2 L448.4,98.4 L447.8,97.9 L447.1,98.0 L446.5,97.8 L445.8,98.2 L445.1,98.1 L444.5,97.9 L443.8,97.8 L443.2,97.7 L442.5,97.7 L441.8,97.7 L441.2,97.7 L440.5,97.7 L439.9,97.7 L439.2,97.4 L438.5,97.0 L437.9,96.7 L437.2,96.7 L436.6,96.1 L435.9,96.3 L435.2,96.2 L434.6,96.2 L433.9,96.2 L433.3,96.8 L432.6,97.0 L431.9,97.0 L431.3,97.1 L430.6,97.1 L430.0,97.1 L429.3,97.1 L428.6,96.5 L428.0,96.4 L427.3,96.2 L426.7,96.7 L426.0,96.3 L425.3,96.1 L424.7,96.8 L424.0,96.9 L423.4,96.4 L422.7,96.2 L422.0,96.5 L421.4,96.7 L420.7,96.5 L420.1,96.6 L419.4,96.3 L418.7,96.0 L418.1,96.1 L417.4,96.0 L416.8,95.7 L416.1,95.9 L415.4,96.3 L414.8,96.0 L414.1,96.1 L413.5,96.3 L412.8,96.0 L412.1,95.9 L411.5,96.4 L410.8,96.4 L410.2,96.4 L409.5,96.5 L408.8,96.8 L408.2,96.6 L407.5,96.9 L406.9,96.8 L406.2,96.7 L405.5,96.7 L404.9,96.9 L404.2,97.2 L403.6,97.7 L402.9,97.5 L402.2,97.5 L401.6,97.0 L400.9,97.3 L400.3,97.1 L399.6,97.2 L398.9,96.9 L398.3,96.6 L397.6,96.8 L397.0,96.7 L396.3,96.6 L395.6,96.9 L395.0,96.9 L394.3,96.5 L393.7,96.7 L393.0,96.8 L392.3,97.2 L391.7,97.3 L391.0,96.9 L390.4,96.6 L389.7,96.5 L389.0,96.7 L388.4,97.5 L387.7,97.4 L387.1,97.4 L386.4,97.2 L385.7,96.7 L385.1,96.3 L384.4,95.8 L383.8,95.6 L383.1,95.4 L382.4,95.3 L381.8,95.3 L381.1,95.5 L380.5,95.7 L379.8,95.8 L379.1,96.6 L378.5,96.0 L377.8,95.5 L377.2,95.9 L376.5,96.4 L375.8,96.2 L375.2,96.7 L374.5,96.3 L373.9,95.9 L373.2,96.5 L372.5,96.2 L371.9,95.1 L371.2,95.4 L370.6,95.6 L369.9,95.2 L369.2,95.7 L368.6,95.3 L367.9,94.9 L367.3,94.9 L366.6,95.7 L365.9,95.6 L365.3,95.2 L364.6,95.3 L364.0,95.1 L363.3,95.1 L362.6,95.0 L362.0,94.8 L361.3,94.2 L360.7,94.1 L360.0,94.6 L359.3,94.0 L358.7,93.9 L358.0,93.9 L357.4,94.0 L356.7,93.9 L356.0,94.1 L355.4,94.2 L354.7,93.1 L354.1,93.3 L353.4,93.4 L352.7,93.6 L352.1,94.0 L351.4,93.5 L350.8,93.0 L350.1,93.3 L349.4,94.2 L348.8,94.2 L348.1,94.5 L347.5,94.8 L346.8,94.7 L346.1,95.0 L345.5,95.0 L344.8,94.7 L344.2,94.5 L343.5,94.3 L342.8,94.3 L342.2,94.0 L341.5,94.3 L340.9,94.4 L340.2,94.4 L339.5,94.5 L338.9,94.6 L338.2,94.6 L337.6,94.6 L336.9,94.6 L336.2,94.4 L335.6,94.0 L334.9,93.8 L334.3,93.6 L333.6,93.8 L332.9,93.9 L332.3,94.0 L331.6,93.7 L331.0,94.0 L330.3,94.0 L329.6,93.8 L329.0,94.2 L328.3,93.8 L327.7,93.8 L327.0,93.4 L326.3,94.1 L325.7,94.5 L325.0,94.0 L324.4,94.3 L323.7,94.5 L323.0,94.7 L322.4,94.8 L321.7,95.0 L321.1,95.2 L320.4,95.1 L319.7,94.9 L319.1,94.0 L318.4,94.1 L317.8,94.2 L317.1,94.1 L316.4,94.2 L315.8,94.2 L315.1,94.2 L314.5,94.3 L313.8,94.5 L313.1,94.3 L312.5,94.2 L311.8,94.0 L311.2,94.0 L310.5,94.3 L309.8,94.3 L309.2,94.6 L308.5,94.3 L307.9,94.6 L307.2,94.6 L306.5,94.8 L305.9,94.7 L305.2,94.8 L304.6,94.8 L303.9,94.8 L303.2,95.0 L302.6,94.8 L301.9,94.8 L301.3,95.1 L300.6,95.0 L299.9,94.5 L299.3,94.7 L298.6,94.7 L298.0,94.4 L297.3,94.7 L296.6,94.9 L296.0,94.9 L295.3,94.9 L294.7,95.6 L294.0,95.7 L293.3,95.8 L292.7,95.9 L292.0,95.6 L291.4,95.2 L290.7,94.8 L290.0,95.0 L289.4,94.5 L288.7,95.0 L288.1,95.1 L287.4,95.1 L286.7,94.6 L286.1,94.4 L285.4,94.4 L284.8,94.0 L284.1,94.2 L283.4,93.9 L282.8,93.6 L282.1,93.6 L281.5,93.7 L280.8,93.5 L280.1,93.3 L279.5,93.4 L278.8,93.2 L278.2,93.3 L277.5,93.4 L276.8,93.3 L276.2,93.3 L275.5,93.5 L274.9,93.5 L274.2,93.9 L273.5,94.2 L272.9,93.8 L272.2,93.7 L271.6,93.8 L270.9,93.3 L270.2,92.9 L269.6,92.5 L268.9,92.2 L268.3,92.0 L267.6,91.9 L266.9,91.9 L266.3,91.5 L265.6,92.0 L265.0,92.3 L264.3,92.4 L263.6,92.6 L263.0,92.7 L262.3,93.0 L261.7,93.4 L261.0,94.2 L260.3,94.4 L259.7,94.0 L259.0,94.2 L258.4,94.6 L257.7,94.6 L257.0,94.8 L256.4,94.6 L255.7,94.1 L255.1,94.1 L254.4,93.9 L253.7,93.7 L253.1,93.6 L252.4,93.7 L251.8,93.8 L251.1,94.5 L250.4,94.8 L249.8,95.6 L249.1,95.7 L248.5,96.2 L247.8,96.7 L247.1,96.3 L246.5,96.3 L245.8,96.5 L245.2,96.9 L244.5,96.3 L243.8,96.4 L243.2,95.9 L242.5,95.7 L241.9,95.5 L241.2,95.1 L240.5,95.3 L239.9,95.0 L239.2,94.8 L238.6,94.4 L237.9,94.9 L237.2,94.5 L236.6,94.8 L235.9,95.0 L235.3,94.6 L234.6,94.5 L233.9,94.8 L233.3,95.0 L232.6,94.6 L232.0,93.9 L231.3,93.7 L230.6,93.6 L230.0,93.3 L229.3,93.4 L228.7,93.1 L228.0,93.0 L227.3,92.8 L226.7,93.0 L226.0,93.0 L225.4,93.2 L224.7,93.4 L224.0,93.4 L223.4,93.4 L222.7,93.6 L222.1,93.6 L221.4,93.5 L220.7,92.9 L220.1,93.2 L219.4,93.1 L218.8,92.7 L218.1,92.8 L217.4,92.8 L216.8,93.1 L216.1,93.1 L215.5,93.4 L214.8,92.9 L214.1,92.8 L213.5,93.0 L212.8,92.8 L212.2,92.8 L211.5,92.9 L210.8,93.3 L210.2,93.1 L209.5,93.3 L208.9,93.7 L208.2,93.1 L207.5,93.6 L206.9,93.7 L206.2,93.3 L205.6,92.7 L204.9,92.9Z" fill="#90ee90"/>
<path d="M204.9,73.2 L205.6,73.3 L206.2,73.0 L206.9,73.0 L207.5,73.0 L208.2,72.8 L208.9,72.6 L209.5,73.4 L210.2,73.6 L210.8,73.6 L211.5,73.6 L212.2,73.7 L212.8,73.5 L213.5,73.2 L214.1,73.4 L214.8,73.3 L215.5,73.0 L216.1,73.0 L216.8,73.3 L217.4,73.0 L218.1,72.6 L218.8,72.9 L219.4,72.7 L220.1,72.9 L220.7,72.9 L221.4,73.5 L222.1,73.6 L222.7,73.9 L223.4,74.2 L224.0,74.3 L224.7,74.5 L225.4,74.7 L226.0,75.0 L226.7,74.5 L227.3,74.8 L228.0,74.8 L228.7,75.4 L229.3,75.6 L230.0,75.6 L230.6,75.6 L231.3,75.8 L232.0,75.8 L232.6,75.8 L233.3,75.9 L233.9,75.6 L234.6,75.8 L235.3,75.8 L235.9,75.8 L236.6,75.6 L237.2,75.3 L237.9,75.3 L238.6,75.4 L239.2,75.0 L239.9,74.8 L240.5,74.5 L241.2,74.4 L241.9,75.2 L242.5,75.3 L243.2,75.6 L243.8,75.6 L244.5,75.1 L245.2,74.9 L245.8,74.8 L246.5,74.6 L247.1,74.8 L247.8,75.2 L248.5,75.4 L249.1,75.3 L249.8,74.8 L250.4,74.4 L251.1,74.6 L251.8,74.2 L252.4,74.8 L253.1,75.2 L253.7,74.9 L254.4,74.7 L255.1,75.0 L255.7,74.8 L256.4,74.6 L257.0,74.7 L257.7,75.1 L258.4,75.4 L259.0,75.0 L259.7,75.1 L260.3,74.7 L261.0,74.6 L261.7,74.6 L262.3,74.5 L263.0,74.4 L263.6,74.4 L264.3,74.4 L265.0,74.4 L265.6,74.3 L266.3,73.9 L266.9,74.0 L267.6,74.3 L268.3,74.6 L268.9,74.2 L269.6,74.8 L270.2,74.7 L270.9,74.6 L271.6,74.7 L272.2,75.1 L272.9,75.1 L273.5,75.4 L274.2,75.6 L274.9,75.5 L275.5,75.8 L276.2,75.7 L276.8,76.1 L277.5,76.3 L278.2,76.4 L278.8,76.2 L279.5,76.4 L280.1,76.2 L280.8,76.3 L281.5,76.1 L282.1,76.2 L282.8,76.1 L283.4,75.6 L284.1,75.6 L284.8,75.4 L285.4,75.1 L286.1,75.0 L286.7,75.0 L287.4,75.0 L288.1,75.0 L288.7,74.9 L289.4,74.5 L290.0,74.7 L290.7,75.1 L291.4,75.3 L292.0,75.3 L292.7,75.0 L293.3,74.7 L294.0,74.9 L294.7,75.4 L295.3,75.8 L296.0,75.8 L296.6,75.7 L297.3,75.9 L298.0,75.4 L298.6,75.2 L299.3,75.0 L299.9,75.0 L300.6,75.7 L301.3,76.4 L301.9,76.5 L302.6,76.3 L303.2,75.6 L303.9,75.3 L304.6,75.7 L305.2,75.8 L305.9,76.3 L306.5,76.4 L307.2,77.0 L307.9,76.9 L308.5,76.6 L309.2,76.7 L309.8,76.5 L310.5,76.5 L311.2,76.8 L311.8,77.2 L312.5,76.9 L313.1,76.6 L313.8,76.3 L314.5,76.4 L315.1,75.9 L315.8,75.6 L316.4,75.6 L317.1,75.0 L317.8,75.3 L318.4,75.1 L319.1,75.0 L319.7,74.7 L320.4,74.8 L321.1,75.1 L321.7,75.1 L322.4,74.6 L323.0,74.8 L323.7,75.0 L324.4,75.0 L325.0,75.2 L325.7,75.0 L326.3,75.2 L327.0,75.3 L327.7,75.5 L328.3,75.1 L329.0,74.4 L329.6,74.2 L330.3,75.1 L331.0,75.0 L331.6,75.0 L332.3,75.0 L332.9,74.8 L333.6,74.9 L334.3,74.7 L334.9,75.1 L335.6,75.1 L336.2,75.3 L336.9,75.9 L337.6,76.2 L338.2,75.4 L338.9,75.7 L339.5,75.5 L340.2,75.6 L340.9,75.7 L341.5,75.8 L342.2,76.1 L342.8,75.8 L343.5,75.5 L344.2,75.5 L344.8,75.5 L345.5,75.4 L346.1,75.7 L346.8,75.5 L347.5,75.6 L348.1,75.7 L348.8,75.6 L349.4,75.6 L350.1,75.2 L350.8,74.8 L351.4,75.2 L352.1,75.5 L352.7,75.4 L353.4,75.7 L354.1,76.0 L354.7,75.8 L355.4,76.2 L356.0,75.8 L356.7,76.0 L357.4,76.2 L358.0,76.2 L358.7,77.0 L359.3,76.8 L360.0,76.9 L360.7,77.1 L361.3,77.1 L362.0,77.2 L362.6,78.0 L363.3,77.9 L364.0,78.6 L364.6,78.9 L365.3,78.8 L365.9,79.1 L366.6,79.0 L367.3,79.4 L367.9,79.4 L368.6,79.6 L369.2,79.6 L369.9,79.8 L370.6,79.2 L371.2,79.2 L371.9,78.7 L372.5,78.5 L373.2,78.5 L373.9,78.4 L374.5,78.2 L375.2,78.1 L375.8,77.9 L376.5,77.9 L377.2,78.1 L377.8,78.0 L378.5,78.3 L379.1,78.3 L379.8,78.9 L380.5,78.6 L381.1,78.5 L381.8,78.9 L382.4,79.3 L383.1,79.0 L383.8,78.8 L384.4,78.6 L385.1,78.3 L385.7,77.8 L386.4,77.8 L387.1,77.6 L387.7,77.3 L388.4,77.2 L389.0,76.6 L389.7,76.4 L390.4,76.5 L391.0,75.9 L391.7,75.8 L392.3,75.7 L393.0,75.6 L393.7,75.8 L394.3,75.5 L395.0,75.3 L395.6,75.4 L396.3,75.8 L397.0,76.3 L397.6,75.7 L398.3,75.6 L398.9,75.9 L399.6,76.1 L400.3,76.3 L400.9,76.4 L401.6,76.3 L402.2,76.4 L402.9,76.6 L403.6,76.2 L404.2,76.0 L404.9,75.4 L405.5,75.5 L406.2,75.1 L406.9,75.4 L407.5,75.1 L408.2,75.0 L408.8,74.8 L409.5,75.2 L410.2,75.0 L410.8,75.5 L411.5,75.7 L412.1,75.7 L412.8,76.1 L413.5,76.1 L414.1,76.1 L414.8,75.8 L415.4,76.1 L416.1,75.9 L416.8,75.3 L417.4,74.4 L418.1,74.4 L418.7,73.6 L419.4,73.7 L420.1,73.5 L420.7,73.6 L421.4,74.0 L422.0,74.2 L422.7,74.3 L423.4,74.3 L424.0,74.2 L424.7,74.8 L425.3,75.5 L426.0,75.7 L426.7,76.1 L427.3,75.7 L428.0,75.9 L428.6,75.9 L429.3,75.9 L430.0,75.9 L430.6,76.0 L431.3,75.9 L431.9,76.0 L432.6,75.9 L433.3,75.6 L433.9,75.6 L434.6,75.3 L435.2,75.7 L435.9,75.8 L436.6,75.8 L437.2,76.0 L437.9,75.3 L438.5,75.3 L439.2,75.4 L439.9,75.7 L440.5,75.8 L441.2,76.1 L441.8,76.5 L442.5,76.4 L443.2,76.0 L443.8,76.3 L444.5,76.5 L445.1,76.2 L445.8,77.0 L446.5,77.2 L447.1,77.0 L447.8,76.7 L448.4,76.7 L449.1,76.6 L449.8,76.8 L450.4,77.3 L451.1,77.7 L451.7,77.4 L452.4,76.9 L453.1,77.0 L453.7,77.1 L454.4,77.3 L455.0,77.4 L455.7,77.6 L456.4,77.0 L457.0,77.3 L457.7,76.7 L458.3,76.8 L459.0,76.9 L459.7,76.8 L460.3,76.9 L461.0,77.3 L461.6,77.3 L462.3,76.8 L463.0,76.8 L463.6,76.9 L464.3,77.7 L464.9,77.3 L465.6,77.4 L466.3,77.5 L466.9,77.3 L467.6,77.4 L468.2,77.7 L468.9,77.6 L469.6,77.6 L470.2,77.8 L470.9,78.0 L471.5,77.7 L472.2,77.5 L472.9,77.9 L473.5,78.1 L474.2,77.9 L474.8,78.0 L475.5,78.4 L476.2,78.3 L476.8,78.0 L477.5,78.0 L478.1,77.8 L478.8,77.8 L479.5,78.2 L480.1,78.0 L480.8,77.9 L481.4,77.6 L482.1,77.9 L482.8,77.6 L483.4,77.7 L484.1,77.5 L484.7,77.6 L485.4,77.3 L486.1,77.6 L486.7,77.7 L487.4,77.5 L488.0,77.3 L488.7,77.5 L489.4,77.7 L490.0,77.6 L490.7,77.8 L491.3,77.4 L492.0,77.8 L492.7,78.0 L493.3,78.3 L494.0,78.2 L494.6,77.9 L495.3,78.1 L496.0,78.4 L496.6,78.1 L497.3,77.5 L497.9,77.2 L498.6,77.3 L499.3,77.3 L499.9,77.2 L500.6,77.3 L501.2,77.0 L501.9,76.8 L502.6,77.2 L503.2,77.1 L503.9,77.0 L504.5,76.7 L505.2,77.1 L505.9,77.4 L506.5,77.3 L507.2,77.1 L507.8,77.0 L508.5,76.9 L509.2,77.1 L509.8,77.5 L510.5,77.5 L511.1,77.3 L511.8,77.1 L512.5,77.4 L513.1,78.0 L513.8,77.6 L514.4,77.9 L515.1,78.1 L515.8,77.9 L516.4,78.0 L517.1,77.7 L517.7,77.7 L518.4,77.4 L519.1,77.7 L519.7,78.2 L520.4,78.1 L521.0,78.0 L521.7,78.5 L522.4,78.5 L523.0,78.4 L523.7,78.9 L524.3,78.7 L525.0,78.9 L525.7,78.9 L526.3,79.0 L527.0,78.9 L527.6,78.6 L528.3,79.0 L529.0,79.1 L529.6,79.1 L530.3,79.1 L530.9,79.7 L531.6,79.8 L532.3,79.8 L532.9,80.0 L533.6,80.1 L534.2,80.4 L534.9,80.7 L535.6,81.1 L536.2,81.2 L536.9,81.2 L537.5,81.3 L538.2,81.1 L538.9,81.0 L539.5,81.1 L540.2,81.6 L540.8,81.9 L541.5,81.8 L542.2,81.8 L542.8,82.3 L543.5,82.4 L544.1,82.1 L544.8,82.2 L545.5,82.4 L546.1,82.4 L546.8,82.5 L547.4,82.2 L548.1,82.0 L548.8,81.6 L549.4,81.5 L550.1,81.6 L550.7,80.9 L551.4,80.9 L552.1,81.5 L552.7,81.3 L553.4,81.2 L554.0,81.5 L554.7,81.6 L555.4,82.2 L556.0,81.8 L556.7,81.6 L557.3,81.6 L558.0,81.9 L558.7,82.2 L559.3,82.1 L560.0,81.9 L560.6,81.9 L561.3,82.1 L562.0,82.5 L562.6,82.1 L563.3,82.2 L563.9,83.0 L564.6,83.5 L565.3,83.8 L565.9,83.8 L566.6,83.8 L567.2,84.0 L567.9,84.2 L568.6,84.1 L569.2,84.2 L569.9,83.7 L570.5,84.2 L571.2,84.0 L571.9,83.7 L572.5,83.8 L573.2,83.8 L573.8,83.9 L574.5,83.6 L575.2,83.6 L575.8,83.5 L576.5,84.2 L577.1,83.9 L577.8,84.2 L578.5,84.2 L579.1,84.0 L579.8,84.5 L580.4,84.4 L581.1,84.5 L581.8,84.6 L582.4,84.7 L583.1,84.5 L583.7,84.4 L584.4,84.0 L585.1,84.6 L585.7,84.5 L586.4,84.2 L587.0,84.7 L587.7,84.5 L588.4,84.7 L589.0,84.9 L589.7,84.7 L590.3,85.0 L591.0,85.0 L591.7,85.0 L592.3,85.0 L593.0,84.7 L593.6,84.9 L594.3,85.4 L595.0,85.1 L595.6,85.3 L596.3,84.7 L596.9,84.4 L597.6,84.6 L598.3,84.7 L598.9,85.0 L599.6,85.1 L600.2,85.5 L600.9,85.5 L601.6,85.4 L602.2,85.3 L602.9,85.2 L603.5,85.1 L604.2,85.7 L604.9,85.5 L605.5,85.6 L606.2,85.5 L606.8,85.2 L607.5,84.6 L608.2,84.4 L608.8,84.0 L609.5,84.0 L610.1,83.9 L610.8,83.8 L611.5,83.7 L612.1,83.3 L612.8,83.5 L613.4,83.0 L614.1,83.1 L614.8,83.2 L615.4,84.0 L616.1,84.3 L616.7,84.6 L617.4,84.3 L618.1,84.5 L618.7,84.9 L619.4,84.8 L620.0,85.3 L620.7,85.3 L621.4,85.0 L622.0,85.1 L622.7,85.3 L623.3,85.2 L624.0,85.1 L624.7,85.2 L625.3,85.1 L626.0,84.5 L626.6,84.0 L627.3,84.1 L628.0,83.6 L628.6,83.4 L629.3,84.1 L629.9,84.4 L630.6,83.7 L631.3,83.3 L631.9,83.1 L632.6,83.0 L633.2,82.8 L633.9,83.9 L634.6,84.3 L635.2,84.4 L635.9,84.2 L636.5,84.5 L637.2,84.1 L637.9,84.0 L638.5,84.4 L639.2,84.6 L639.8,84.8 L640.5,84.7 L641.2,85.2 L641.8,84.2 L642.5,84.2 L643.1,84.1 L643.8,85.1 L644.5,85.0 L645.1,84.8 L645.8,85.1 L646.4,84.9 L647.1,84.7 L647.8,84.6 L648.4,85.0 L649.1,85.4 L649.7,85.8 L650.4,85.7 L651.1,85.8 L651.7,85.2 L652.4,85.1 L653.0,85.6 L653.7,85.3 L654.4,85.7 L655.0,85.6 L655.7,85.7 L656.3,85.5 L657.0,85.4 L657.7,85.5 L658.3,85.4 L659.0,85.4 L659.6,85.4 L660.3,85.4 L661.0,85.3 L661.6,85.2 L662.3,84.8 L662.9,85.1 L663.6,84.9 L664.3,84.7 L664.9,84.2 L665.6,84.4 L666.2,84.6 L666.9,84.6 L667.6,84.5 L668.2,84.9 L668.9,85.1 L669.5,85.3 L670.2,85.6 L670.9,85.8 L671.5,86.3 L672.2,86.4 L672.8,86.6 L673.5,86.6 L674.2,86.6 L674.8,86.8 L675.5,87.3 L676.1,87.6 L676.8,87.9 L677.5,88.0 L678.1,88.0 L678.8,88.1 L679.4,88.2 L680.1,88.5 L680.8,88.5 L681.4,88.4 L682.1,88.7 L682.7,88.5 L683.4,87.9 L684.1,87.9 L684.7,87.8 L685.4,88.2 L686.0,88.5 L686.7,88.8 L687.4,88.7 L688.0,88.9 L688.7,89.0 L689.3,88.9 L690.0,88.5 L690.7,88.8 L691.3,89.6 L692.0,89.6 L692.6,89.5 L693.3,89.6 L694.0,89.5 L694.6,89.5 L695.3,89.4 L695.9,89.3 L696.6,89.3 L697.3,90.0 L697.9,90.8 L698.6,91.2 L699.2,91.1 L699.9,91.3 L700.6,91.6 L701.2,91.7 L701.9,91.9 L702.5,92.3 L703.2,92.3 L703.9,93.1 L704.5,93.4 L705.2,93.3 L705.8,93.6 L706.5,93.3 L707.2,93.5 L707.8,93.4 L708.5,93.9 L709.1,93.5 L709.8,93.6 L710.5,93.3 L711.1,94.0 L711.8,94.3 L712.4,94.6 L713.1,94.9 L713.8,94.8 L714.4,95.6 L715.1,95.8 L715.7,95.9 L716.4,96.0 L717.1,96.4 L717.7,96.3 L718.4,96.6 L719.0,96.4 L719.7,96.2 L720.4,96.1 L721.0,96.1 L721.7,95.6 L722.3,95.2 L723.0,95.3 L723.7,95.6 L724.3,95.5 L725.0,95.5 L725.6,95.7 L726.3,95.6 L727.0,95.9 L727.6,95.7 L728.3,95.7 L728.9,95.9 L729.6,96.4 L730.3,96.4 L730.9,97.0 L731.6,97.0 L732.2,96.7 L732.9,96.9 L733.6,96.8 L734.2,96.9 L734.9,96.6 L735.5,96.5 L736.2,96.1 L736.9,95.7 L737.5,95.5 L738.2,95.2 L738.8,94.4 L739.5,94.2 L740.2,93.8 L740.8,93.3 L741.5,93.0 L742.1,92.5 L742.8,92.1 L743.5,92.1 L744.1,92.2 L744.8,92.3 L745.4,92.0 L746.1,91.6 L746.8,91.7 L747.4,91.5 L748.1,91.6 L748.7,92.0 L749.4,91.5 L750.1,91.3 L750.7,90.8 L751.4,90.3 L752.0,89.9 L752.7,89.7 L753.4,89.2 L754.0,89.3 L754.7,88.8 L755.3,88.5 L756.0,88.4 L756.7,87.9 L757.3,87.6 L758.0,87.1 L758.6,87.1 L759.3,86.6 L760.0,86.5 L760.6,86.2 L761.3,86.0 L761.9,85.7 L762.6,85.4 L763.3,84.9 L763.9,84.6 L764.6,84.5 L765.2,84.5 L765.9,84.9 L766.6,84.5 L767.2,84.4 L767.9,84.5 L768.5,84.5 L769.2,84.4 L769.9,84.5 L770.5,84.1 L771.2,84.1 L771.8,84.0 L772.5,83.6 L773.2,83.6 L773.8,83.3 L774.5,83.4 L775.1,83.1 L775.8,82.6 L776.5,82.4 L777.1,82.3 L777.8,82.0 L778.4,82.1 L779.1,82.1 L779.8,82.3 L780.4,82.1 L781.1,81.6 L781.7,81.6 L782.4,81.6 L783.1,81.6 L783.7,81.7 L784.4,81.1 L785.0,81.0 L785.7,80.8 L786.4,81.2 L787.0,81.1 L787.7,81.0 L788.3,80.9 L789.0,80.9 L789.7,80.5 L790.3,79.9 L791.0,79.7 L791.6,79.7 L792.3,79.7 L793.0,79.6 L793.6,79.8 L794.3,79.3 L794.9,79.3 L795.6,79.0 L796.3,79.1 L796.9,78.7 L797.6,79.0 L798.2,79.3 L798.9,79.2 L799.6,78.9 L800.2,79.2 L800.9,79.2 L801.5,78.8 L802.2,78.4 L802.9,78.0 L803.5,78.1 L804.2,77.8 L804.8,78.2 L805.5,77.6 L806.2,77.5 L806.8,77.5 L807.5,77.4 L808.1,77.6 L808.8,77.5 L809.5,77.5 L810.1,78.2 L810.8,78.2 L811.4,77.8 L812.1,77.6 L812.8,77.9 L813.4,78.1 L814.1,78.2 L814.7,78.5 L815.4,78.6 L816.1,78.5 L816.7,78.8 L817.4,79.0 L818.0,78.6 L818.7,78.8 L819.4,78.9 L820.0,79.5 L820.7,79.2 L821.3,79.1 L822.0,78.6 L822.7,78.1 L823.3,77.8 L824.0,77.6 L824.6,77.2 L825.3,77.1 L826.0,76.8 L826.6,76.7 L827.3,76.7 L827.9,76.5 L828.6,75.9 L829.3,76.0 L829.9,76.7 L830.6,77.0 L831.2,76.9 L831.9,76.7 L832.6,76.5 L833.2,76.6 L833.9,76.6 L834.5,76.1 L835.2,75.2 L835.9,75.0 L836.5,75.8 L837.2,75.2 L837.8,74.6 L838.5,74.2 L839.2,74.3 L839.8,74.6 L840.5,74.3 L841.1,74.1 L841.8,73.9 L842.5,74.5 L843.1,75.3 L843.8,75.5 L844.4,74.8 L845.1,74.9 L845.8,74.9 L846.4,74.9 L847.1,74.7 L847.7,74.3 L848.4,74.6 L849.1,74.2 L849.7,74.6 L850.4,74.4 L851.0,74.2 L851.7,74.1 L852.4,74.2 L853.0,74.6 L853.7,74.8 L854.3,75.4 L855.0,75.7 L855.7,76.0 L856.3,76.4 L857.0,76.8 L857.6,76.9 L858.3,76.5 L859.0,76.8 L859.6,76.8 L860.3,77.5 L860.9,77.2 L861.6,77.4 L862.3,77.0 L862.9,76.7 L863.6,76.7 L864.2,76.7 L864.9,76.6 L865.6,76.5 L866.2,77.1 L866.9,77.3 L867.5,77.5 L868.2,77.2 L868.9,77.2 L869.5,77.1 L870.2,77.2 L870.8,77.8 L871.5,77.7 L872.2,78.0 L872.8,77.9 L873.5,78.3 L874.1,77.9 L874.8,77.9 L875.5,77.4 L876.1,77.1 L876.8,77.4 L877.4,77.5 L878.1,77.4 L878.8,77.1 L879.4,77.2 L880.1,77.2 L880.7,77.3 L881.4,77.5 L882.1,78.4 L882.7,78.3 L883.4,79.0 L884.0,79.3 L884.7,79.8 L885.4,79.8 L886.0,80.5 L886.7,80.5 L887.3,80.7 L888.0,80.3 L888.7,80.5 L889.3,80.3 L890.0,80.1 L890.6,80.4 L891.3,80.5 L892.0,80.7 L892.6,80.4 L893.3,80.2 L893.9,79.8 L894.6,79.9 L895.3,80.3 L895.9,80.7 L896.6,80.7 L897.2,80.8 L897.9,80.7 L898.6,81.0 L899.2,80.6 L899.9,80.9 L900.5,81.1 L901.2,81.5 L901.9,81.7 L902.5,81.7 L903.2,81.6 L903.8,81.6 L904.5,82.0 L905.2,82.1 L905.8,82.6 L906.5,82.7 L907.1,82.9 L907.8,83.0 L908.5,82.9 L909.1,82.8 L909.8,83.0 L910.4,83.1 L911.1,83.1 L911.8,83.4 L912.4,83.3 L913.1,83.1 L913.7,82.7 L914.4,83.3 L915.1,83.5 L915.7,83.5 L916.4,83.8 L917.0,84.3 L917.7,84.3 L918.4,84.4 L919.0,84.5 L919.7,84.2 L920.3,84.2 L921.0,84.1 L921.7,84.4 L922.3,83.9 L923.0,84.4 L923.6,84.4 L924.3,84.4 L925.0,84.5 L925.6,84.4 L926.3,84.9 L926.9,85.0 L927.6,85.1 L928.3,85.6 L928.9,86.1 L929.6,86.0 L930.2,86.3 L930.9,86.5 L931.6,86.9 L932.2,87.1 L932.9,86.9 L933.5,87.4 L934.2,87.5 L934.9,87.7 L935.5,88.2 L936.2,88.5 L936.8,88.3 L937.5,88.7 L938.2,88.9 L938.8,88.7 L939.5,88.5 L940.1,89.0 L940.8,89.2 L941.5,89.3 L942.1,89.3 L942.8,89.4 L943.4,89.4 L944.1,89.3 L944.8,89.5 L945.4,89.2 L946.1,89.1 L946.7,89.2 L947.4,89.3 L948.1,89.2 L948.7,89.3 L949.4,89.5 L950.0,89.8 L950.7,89.5 L951.4,89.7 L952.0,90.1 L952.7,90.5 L953.3,90.9 L954.0,90.9 L954.7,91.1 L955.3,91.0 L956.0,90.4 L956.6,90.4 L957.3,90.3 L958.0,90.1 L958.6,90.5 L959.3,90.2 L959.9,90.1 L960.6,90.1 L961.3,89.9 L961.9,90.0 L962.6,89.9 L963.2,90.3 L963.9,90.4 L964.6,90.1 L965.2,89.9 L965.9,89.9 L966.5,89.5 L967.2,89.6 L967.9,89.1 L968.5,88.8 L969.2,88.9 L969.8,88.9 L970.5,89.1 L971.2,88.9 L971.8,89.1 L972.5,89.1 L973.1,89.0 L973.8,88.8 L974.5,88.9 L975.1,89.0 L975.8,89.4 L976.4,89.5 L977.1,89.5 L977.8,89.5 L978.4,89.2 L979.1,89.0 L979.7,88.7 L980.4,88.9 L981.1,89.1 L981.7,89.2 L982.4,88.9 L983.0,88.8 L983.7,88.3 L984.4,87.9 L985.0,87.6 L985.7,86.8 L986.3,86.4 L987.0,86.3 L987.7,86.3 L988.3,86.1 L989.0,85.5 L989.6,85.3 L990.3,85.5 L991.0,85.4 L991.6,85.4 L992.3,85.6 L992.9,85.3 L993.6,85.9 L994.3,86.1 L994.9,85.8 L995.6,85.7 L996.2,85.5 L996.9,85.4 L997.6,85.2 L998.2,85.2 L998.9,85.1 L999.5,85.2 L1000.2,85.1 L1000.9,85.5 L1001.5,85.2 L1002.2,85.0 L1002.8,85.1 L1003.5,85.4 L1004.2,85.2 L1004.8,85.1 L1005.5,85.1 L1006.1,85.1 L1006.8,84.8 L1007.5,84.7 L1008.1,84.3 L1008.8,84.4 L1009.4,84.2 L1010.1,84.1 L1010.8,84.2 L1011.4,83.7 L1012.1,83.6 L1012.7,84.0 L1013.4,83.9 L1014.1,83.4 L1014.7,83.7 L1015.4,83.9 L1016.0,83.9 L1016.7,83.4 L1017.4,83.5 L1018.0,83.4 L1018.7,83.2 L1019.3,83.5 L1020.0,83.8 L1020.7,83.7 L1021.3,83.8 L1022.0,84.1 L1022.6,84.0 L1023.3,83.8 L1024.0,83.8 L1024.6,83.9 L1025.3,84.4 L1025.9,84.9 L1026.6,84.8 L1027.3,84.6 L1027.9,84.6 L1028.6,84.7 L1029.2,85.1 L1029.9,84.9 L1030.6,85.0 L1031.2,84.6 L1031.9,84.1 L1032.5,84.1 L1033.2,83.9 L1033.9,83.2 L1034.5,83.2 L1035.2,83.2 L1035.8,82.9 L1036.5,82.6 L1037.2,82.5 L1037.8,82.4 L1038.5,82.0 L1039.1,82.3 L1039.8,83.0 L1040.5,83.0 L1041.1,83.2 L1041.8,83.6 L1042.4,83.6 L1043.1,83.6 L1043.8,83.4 L1044.4,83.5 L1045.1,83.3 L1045.7,83.8 L1046.4,83.4 L1047.1,83.1 L1047.7,82.7 L1048.4,83.0 L1049.0,82.6 L1049.7,82.3 L1050.4,82.5 L1051.0,82.4 L1051.7,82.6 L1052.3,82.6 L1053.0,82.8 L1053.7,82.1 L1054.3,82.4 L1055.0,82.7 L1055.6,82.8 L1056.3,82.5 L1057.0,82.7 L1057.6,82.9 L1058.3,82.8 L1058.9,83.1 L1059.6,83.0 L1060.3,83.0 L1060.9,82.8 L1061.6,83.2 L1062.2,83.5 L1062.9,83.1 L1063.6,82.8 L1064.2,82.7 L1064.9,82.7 L1065.5,82.7 L1066.2,82.5 L1066.9,82.1 L1067.5,81.8 L1068.2,81.7 L1068.8,81.6 L1069.5,81.6 L1070.2,81.6 L1070.8,82.0 L1071.5,82.5 L1072.1,82.7 L1072.8,82.8 L1073.5,82.8 L1074.1,82.8 L1074.8,83.0 L1075.4,83.8 L1076.1,83.6 L1076.8,83.5 L1077.4,83.3 L1078.1,83.2 L1078.7,83.2 L1079.4,83.4 L1080.1,83.4 L1080.7,83.3 L1081.4,83.1 L1082.0,83.1 L1082.7,83.0 L1083.4,82.6 L1084.0,83.0 L1084.7,83.4 L1085.3,83.4 L1086.0,83.6 L1086.7,83.5 L1087.3,83.5 L1088.0,83.3 L1088.6,83.1 L1089.3,83.2 L1090.0,83.4 L1090.6,83.2 L1091.3,83.5 L1091.9,83.2 L1092.6,83.1 L1093.3,83.0 L1093.9,83.0 L1094.6,83.4 L1095.2,83.2 L1095.9,83.7 L1096.6,83.8 L1097.2,83.8 L1097.9,84.1 L1098.5,84.1 L1099.2,84.0 L1099.9,84.2 L1100.5,83.9 L1101.2,84.2 L1101.8,83.5 L1102.5,83.4 L1103.2,83.4 L1103.8,83.4 L1104.5,83.6 L1105.1,83.5 L1105.8,83.3 L1106.5,83.3 L1107.1,83.3 L1107.8,83.2 L1108.4,83.5 L1109.1,83.7 L1109.8,84.3 L1110.4,84.2 L1111.1,84.2 L1111.7,84.0 L1112.4,83.7 L1113.1,84.0 L1113.7,84.2 L1114.4,84.3 L1115.0,84.4 L1115.7,84.4 L1116.4,84.5 L1117.0,84.5 L1117.7,84.7 L1118.3,84.7 L1119.0,84.6 L1119.7,84.5 L1120.3,85.0 L1121.0,85.2 L1121.6,85.2 L1122.3,85.3 L1123.0,85.4 L1123.6,85.8 L1124.3,85.3 L1124.9,85.5 L1125.6,85.1 L1126.3,85.2 L1126.9,85.6 L1127.6,85.7 L1128.2,85.4 L1128.9,85.4 L1129.6,85.2 L1130.2,85.2 L1130.9,84.9 L1131.5,84.8 L1132.2,85.2 L1132.9,85.1 L1133.5,85.0 L1134.2,85.1 L1134.8,85.2 L1135.5,85.1 L1136.2,85.1 L1136.8,84.9 L1137.5,84.9 L1138.1,85.1 L1138.8,85.4 L1139.5,85.3 L1140.1,84.7 L1140.8,84.6 L1141.4,85.3 L1142.1,85.6 L1142.8,85.5 L1143.4,85.5 L1144.1,85.9 L1144.7,86.1 L1145.4,86.6 L1146.1,87.0 L1146.7,87.2 L1147.4,87.5 L1148.0,88.0 L1148.7,88.3 L1149.4,87.9 L1150.0,88.0 L1150.7,88.1 L1151.3,88.7 L1152.0,88.4 L1152.7,88.5 L1153.3,88.1 L1154.0,88.0 L1154.6,87.9 L1155.3,88.2 L1156.0,88.6 L1156.6,88.3 L1157.3,88.3 L1157.9,88.2 L1158.6,88.3 L1159.3,88.5 L1159.9,88.5 L1160.6,88.4 L1161.2,88.7 L1161.9,88.6 L1162.6,89.2 L1163.2,89.0 L1163.9,88.7 L1164.5,89.5 L1165.2,89.9 L1165.9,89.7 L1166.5,89.6 L1167.2,89.3 L1167.8,89.5 L1168.5,89.8 L1169.2,89.9 L1169.8,89.8 L1170.5,89.4 L1171.1,89.4 L1171.8,89.9 L1172.5,89.7 L1173.1,89.3 L1173.8,89.5 L1174.4,89.8 L1175.1,90.3 L1175.8,90.6 L1176.4,90.0 L1177.1,89.8 L1177.7,90.1 L1178.4,90.4 L1179.1,90.5 L1179.7,91.0 L1180.4,90.8 L1181.0,91.5 L1181.7,91.8 L1182.4,91.7 L1183.0,91.0 L1183.7,90.7 L1184.3,91.5 L1185.0,92.0 L1185.7,92.2 L1186.3,92.4 L1187.0,92.4 L1187.6,92.3 L1188.3,92.6 L1189.0,92.4 L1189.6,92.4 L1190.3,92.5 L1190.9,93.1 L1191.6,93.3 L1192.3,93.4 L1192.9,93.4 L1193.6,93.1 L1194.2,92.7 L1194.9,93.0 L1195.6,93.4 L1196.2,93.4 L1196.9,93.1 L1197.5,93.4 L1198.2,93.5 L1198.9,93.7 L1199.5,93.9 L1200.2,93.9 L1200.8,94.1 L1201.5,94.3 L1202.2,95.0 L1202.8,94.9 L1203.5,94.7 L1204.1,94.7 L1204.8,95.2 L1205.5,95.0 L1206.1,95.4 L1206.8,95.2 L1207.4,95.0 L1208.1,95.2 L1208.8,95.3 L1209.4,95.4 L1210.1,95.1 L1210.7,95.2 L1211.4,95.2 L1212.1,95.5 L1212.7,95.4 L1213.4,95.8 L1214.0,95.3 L1214.7,95.5 L1215.4,95.6 L1216.0,95.6 L1216.7,95.6 L1217.3,96.1 L1218.0,96.4 L1218.7,96.6 L1219.3,96.2 L1220.0,95.9 L1220.6,96.3 L1221.3,96.1 L1222.0,96.8 L1222.6,96.7 L1223.3,97.1 L1223.9,96.9 L1224.6,97.2 L1225.3,96.9 L1225.9,97.2 L1226.6,97.1 L1227.2,97.4 L1227.9,97.8 L1228.6,97.8 L1229.2,98.1 L1229.9,97.8 L1230.5,98.2 L1231.2,98.1 L1231.9,98.2 L1232.5,98.1 L1233.2,98.2 L1233.8,98.2 L1234.5,98.5 L1235.2,98.8 L1235.8,98.7 L1236.5,99.0 L1237.1,99.0 L1237.8,99.1 L1238.5,98.7 L1239.1,98.8 L1239.8,99.0 L1240.4,99.3 L1241.1,98.7 L1241.8,99.0 L1242.4,99.3 L1243.1,99.2 L1243.7,99.7 L1244.4,99.4 L1245.1,99.5 L1245.7,99.7 L1246.4,100.4 L1247.0,100.9 L1247.7,101.3 L1248.4,101.0 L1249.0,101.6 L1249.7,101.4 L1250.3,101.3 L1251.0,101.6 L1251.7,101.7 L1252.3,101.9 L1253.0,102.1 L1253.6,102.3 L1254.3,101.8 L1255.0,102.0 L1255.6,102.0 L1256.3,102.6 L1256.9,102.8 L1257.6,102.9 L1258.3,102.9 L1258.9,103.0 L1259.6,103.0 L1260.2,103.2 L1260.9,103.3 L1261.6,103.6 L1262.2,103.7 L1262.9,103.4 L1263.5,103.2 L1264.2,103.2 L1264.9,103.2 L1265.5,103.7 L1266.2,103.9 L1266.8,103.4 L1267.5,103.1 L1268.2,103.1 L1268.8,103.2 L1269.5,103.3 L1270.1,103.9 L1270.8,103.9 L1271.5,104.4 L1272.1,103.9 L1272.8,104.1 L1273.4,103.6 L1274.1,103.9 L1274.8,104.0 L1275.4,104.4 L1276.1,104.8 L1276.7,104.8 L1277.4,104.9 L1278.1,105.0 L1278.7,104.6 L1279.4,104.2 L1280.0,104.6 L1280.7,104.4 L1281.4,104.8 L1282.0,105.4 L1282.7,106.3 L1283.3,106.4 L1284.0,106.1 L1284.7,106.3 L1285.3,106.4 L1286.0,106.2 L1286.6,107.2 L1287.3,107.3 L1288.0,107.7 L1288.6,107.9 L1289.3,108.4 L1289.9,107.8 L1290.6,107.4 L1291.3,107.2 L1291.9,107.5 L1292.6,107.5 L1293.2,108.1 L1293.9,108.6 L1294.6,108.3 L1295.2,108.5 L1295.9,108.2 L1296.5,108.5 L1297.2,108.0 L1297.9,108.1 L1298.5,108.5 L1299.2,108.6 L1299.8,108.3 L1300.5,108.5 L1301.2,108.2 L1301.8,107.9 L1302.5,108.0 L1303.1,108.6 L1303.8,108.8 L1304.5,108.6 L1305.1,108.9 L1305.8,109.0 L1306.4,108.8 L1307.1,109.2 L1307.8,109.4 L1308.4,109.4 L1309.1,109.1 L1309.7,108.7 L1310.4,108.9 L1311.1,108.8 L1311.7,108.5 L1312.4,108.3 L1313.0,108.6 L1313.7,109.1 L1314.4,109.2 L1315.0,108.9 L1315.7,109.4 L1316.3,109.2 L1317.0,109.2 L1317.7,109.9 L1318.3,109.6 L1319.0,109.8 L1319.6,110.2 L1320.3,111.0 L1321.0,110.5 L1321.6,110.5 L1322.3,110.5 L1322.9,110.8 L1323.6,110.6 L1324.3,110.6 L1324.9,111.0 L1325.6,111.0 L1326.2,111.4 L1326.9,111.4 L1327.6,111.6 L1328.2,111.1 L1328.9,111.5 L1329.5,111.2 L1330.2,111.7 L1330.9,112.0 L1331.5,112.1 L1332.2,112.0 L1332.8,112.0 L1333.5,112.2 L1334.2,112.4 L1334.8,112.1 L1335.5,112.4 L1336.1,112.9 L1336.8,113.3 L1337.5,113.5 L1338.1,113.1 L1338.8,112.7 L1339.4,113.0 L1340.1,112.5 L1340.8,112.5 L1341.4,112.4 L1342.1,111.8 L1342.7,112.1 L1343.4,111.6 L1344.1,111.1 L1344.7,110.7 L1345.4,110.6 L1346.0,110.6 L1346.7,110.4 L1347.4,110.2 L1348.0,110.8 L1348.7,110.7 L1349.3,110.5 L1350.0,110.8 L1350.7,110.4 L1351.3,110.2 L1352.0,110.0 L1352.6,109.9 L1353.3,109.7 L1354.0,109.5 L1354.6,109.3 L1355.3,109.2 L1355.9,108.6 L1356.6,108.0 L1357.3,107.2 L1357.9,107.0 L1358.6,107.1 L1359.2,107.0 L1359.9,107.3 L1360.6,106.9 L1361.2,106.5 L1361.9,106.2 L1362.5,106.4 L1363.2,106.0 L1363.9,106.2 L1364.5,106.1 L1365.2,106.3 L1365.8,106.0 L1366.5,105.8 L1367.2,105.8 L1367.8,105.5 L1368.5,105.7 L1369.1,105.5 L1369.8,105.4 L1370.5,105.3 L1371.1,105.1 L1371.8,104.7 L1372.4,104.6 L1373.1,105.1 L1373.8,104.8 L1374.4,104.7 L1375.1,104.5 L1375.7,105.1 L1376.4,104.9 L1377.1,105.3 L1377.7,105.7 L1378.4,105.6 L1379.0,105.7 L1379.7,105.6 L1380.4,105.8 L1381.0,105.8 L1381.7,105.9 L1382.3,106.2 L1383.0,106.3 L1383.7,105.9 L1384.3,105.7 L1385.0,105.4 L1385.6,105.2 L1386.3,105.2 L1387.0,104.9 L1387.6,104.8 L1388.3,104.6 L1388.9,104.0 L1389.6,103.9 L1390.3,103.7 L1390.9,103.4 L1391.6,103.5 L1392.2,103.6 L1392.9,103.5 L1393.6,103.0 L1394.2,102.9 L1394.9,103.4 L1395.5,103.7 L1396.2,103.8 L1396.9,103.6 L1397.5,103.0 L1398.2,102.4 L1398.8,102.2 L1399.5,101.4 L1400.2,101.1 L1400.8,100.9 L1401.5,101.3 L1402.1,101.2 L1402.8,100.8 L1403.5,100.8 L1404.1,100.5 L1404.8,100.5 L1405.4,100.9 L1406.1,100.9 L1406.8,101.2 L1407.4,101.4 L1408.1,101.3 L1408.7,101.2 L1409.4,101.4 L1410.1,101.1 L1410.7,101.0 L1411.4,100.8 L1412.0,100.7 L1412.7,100.6 L1413.4,100.4 L1414.0,100.2 L1414.7,100.0 L1415.3,100.2 L1416.0,100.3 L1416.7,100.4 L1417.3,100.3 L1418.0,100.0 L1418.6,100.3 L1419.3,100.4 L1420.0,100.5 L1420.6,100.9 L1421.3,100.8 L1421.9,101.1 L1422.6,101.1 L1423.3,100.8 L1423.9,100.6 L1424.6,100.7 L1425.2,100.5 L1425.9,100.7 L1426.6,100.3 L1427.2,100.1 L1427.9,100.0 L1428.5,99.5 L1429.2,99.6 L1429.9,99.1 L1430.5,98.9 L1431.2,98.9 L1431.8,98.9 L1432.5,99.0 L1433.2,98.8 L1433.8,99.0 L1434.5,98.9 L1435.1,99.3 L1435.8,99.1 L1436.5,99.1 L1437.1,98.9 L1437.8,99.2 L1438.4,99.4 L1439.1,99.4 L1439.8,99.6 L1440.4,99.7 L1441.1,99.6 L1441.7,99.5 L1442.4,99.9 L1443.1,99.5 L1443.7,99.9 L1444.4,100.1 L1445.0,100.5 L1445.7,100.4 L1446.4,100.8 L1447.0,100.8 L1447.7,100.8 L1448.3,100.6 L1449.0,101.2 L1449.7,101.0 L1450.3,101.1 L1451.0,100.9 L1451.6,100.5 L1452.3,100.5 L1453.0,100.6 L1453.6,100.9 L1454.3,100.3 L1454.9,100.8 L1455.6,100.6 L1456.3,100.8 L1456.9,100.3 L1457.6,100.1 L1458.2,100.0 L1458.9,99.7 L1459.6,99.8 L1460.2,99.7 L1460.9,99.3 L1461.5,99.0 L1462.2,99.6 L1462.9,99.3 L1463.5,99.4 L1464.2,98.9 L1464.8,99.2 L1465.5,99.5 L1466.2,99.7 L1466.8,100.4 L1467.5,100.6 L1468.1,100.7 L1468.8,100.9 L1469.5,101.4 L1470.1,101.2 L1470.8,101.2 L1471.4,101.4 L1472.1,101.8 L1472.8,101.9 L1473.4,101.9 L1474.1,101.6 L1474.7,101.8 L1475.4,102.0 L1476.1,102.0 L1476.7,101.8 L1477.4,101.6 L1478.0,101.6 L1478.7,101.5 L1479.4,101.6 L1480.0,101.6 L1480.7,101.4 L1481.3,101.8 L1482.0,102.0 L1482.7,101.8 L1483.3,101.4 L1484.0,101.5 L1484.6,101.5 L1485.3,101.9 L1486.0,102.2 L1486.6,102.4 L1487.3,102.4 L1487.9,102.5 L1488.6,102.6 L1489.3,102.3 L1489.9,102.7 L1490.6,102.5 L1491.2,102.9 L1491.9,103.2 L1492.6,103.5 L1493.2,103.4 L1493.9,103.5 L1494.5,103.8 L1495.2,104.1 L1495.9,103.8 L1496.5,104.1 L1497.2,104.5 L1497.8,104.2 L1498.5,104.2 L1499.2,104.1 L1499.8,104.4 L1500.5,104.2 L1501.1,104.4 L1501.8,104.2 L1502.5,104.2 L1503.1,104.2 L1503.8,104.6 L1504.4,104.6 L1505.1,104.5 L1505.8,105.1 L1506.4,105.6 L1507.1,105.9 L1507.7,105.6 L1508.4,105.9 L1509.1,105.7 L1509.7,106.0 L1510.4,106.3 L1511.0,106.4 L1511.7,106.7 L1512.4,106.8 L1513.0,106.8 L1513.7,106.9 L1514.3,106.8 L1515.0,106.9 L1515.7,107.6 L1516.3,107.5 L1517.0,107.7 L1517.6,108.0 L1518.3,108.1 L1519.0,108.4 L1519.6,108.7 L1520.3,108.8 L1520.9,109.0 L1521.6,108.9 L1522.3,109.1 L1522.9,109.0 L1523.5,108.8" fill="none" stroke="#808080" stroke-width="6.94" stroke-dasharray="26.68 8.20" stroke-linejoin="round"/>
<line x1="864" y1="9.0" x2="864" y2="634.0" stroke="#808080" stroke-width="2.08" stroke-dasharray="7.7 3.33" stroke-dashoffset="0.8"/>
<rect x="186" y="527.6" width="815" height="93" rx="5" ry="5" fill="#fff" fill-opacity="0.8"/>
<line x1="197.4" y1="552.4" x2="253.5" y2="552.4" stroke="#006400" stroke-width="6.94" stroke-linecap="square"/>
<line x1="197.4" y1="594.4" x2="253.7" y2="594.4" stroke="#808080" stroke-width="6.94" stroke-dasharray="25.7 11.1"/>
<text x="275" y="562" fill="#000">Across All Cancer Types Average Signal</text>
<text x="275" y="604" fill="#000">Across All Cancer Types Simulations Average Signal</text>
<path d="M203.8,387.9 L204.4,386.2 L205.0,389.6 L205.6,392.4 L206.2,391.4 L206.9,394.3 L207.5,396.1 L208.2,392.0 L208.9,396.4 L209.6,395.3 L210.3,390.5 L211.0,388.9 L211.7,391.1 L212.3,390.1 L213.0,391.1 L213.7,388.7 L214.3,392.0 L215.0,391.8 L215.6,395.5 L216.2,394.5 L216.9,402.3 L217.5,401.1 L218.1,399.7 L218.8,405.5 L219.4,399.8 L220.0,394.0 L220.6,393.7 L221.2,388.3 L221.9,393.0 L222.5,389.5 L223.1,386.4 L223.8,387.9 L224.4,383.9 L225.0,388.7 L225.6,386.4 L226.2,389.6 L226.9,389.9 L227.5,396.5 L228.1,398.6 L228.8,397.0 L229.4,401.7 L230.0,401.5 L230.6,404.2 L231.2,404.5 L231.9,403.7 L232.5,405.3 L233.2,408.0 L233.9,407.6 L234.6,402.2 L235.3,399.3 L236.0,403.4 L236.7,400.4 L237.4,399.8 L238.1,399.4 L238.8,397.8 L239.4,398.5 L240.0,397.0 L240.6,401.1 L241.2,399.9 L241.9,404.3 L242.5,401.7 L243.1,399.9 L243.8,405.1 L244.4,410.1 L245.0,411.1 L245.6,413.7 L246.2,416.9 L246.9,422.0 L247.5,425.8 L248.1,427.2 L248.8,434.9 L249.4,435.0 L250.0,439.7 L250.6,443.8 L251.2,447.2 L251.9,444.0 L252.5,445.4 L253.1,447.6 L253.8,444.9 L254.4,441.9 L255.0,446.0 L255.6,448.1 L256.2,447.6 L256.9,443.2 L257.5,443.7 L258.2,441.2 L258.8,440.6 L259.5,442.0 L260.1,442.6 L260.8,439.4 L261.4,449.8 L262.0,462.6 L262.6,466.5 L263.2,472.2 L263.8,478.6 L264.4,480.0 L265.0,486.3 L265.6,485.3 L266.2,484.0 L266.9,485.1 L267.5,483.8 L268.1,486.5 L268.8,485.7 L269.4,482.6 L270.0,487.5 L270.6,485.9 L271.2,489.7 L271.9,487.1 L272.5,491.4 L273.1,488.2 L273.8,490.1 L274.4,493.7 L275.0,497.8 L275.6,499.4 L276.2,499.7 L276.9,505.7 L277.5,506.6 L278.1,508.2 L278.8,509.8 L279.4,515.2 L280.0,512.3 L280.6,511.9 L281.2,515.0 L281.9,514.3 L282.5,514.7 L283.1,517.5 L283.8,519.4 L284.4,518.9 L285.0,519.3 L285.6,517.5 L286.2,514.9 L286.9,514.8 L287.5,514.1 L288.1,516.4 L288.8,513.7 L289.4,513.4 L290.0,518.8 L290.6,517.6 L291.2,518.4 L291.9,524.7 L292.5,523.1 L293.1,525.5 L293.8,524.5 L294.4,523.9 L295.0,525.3 L295.6,528.5 L296.2,530.1 L296.9,529.4 L297.5,530.2 L298.1,528.4 L298.8,531.4 L299.4,527.9 L300.0,530.5 L300.6,531.1 L301.2,529.5 L301.9,529.9 L302.5,522.6 L303.1,527.3 L303.8,530.9 L304.4,531.5 L305.0,531.2 L305.6,534.9 L306.2,538.0 L306.9,532.3 L307.5,536.2 L308.1,539.0 L308.8,537.8 L309.4,542.9 L310.0,541.2 L310.6,542.6 L311.2,543.8 L311.9,547.1 L312.5,548.3 L313.1,551.2 L313.8,547.8 L314.4,549.3 L315.0,549.4 L315.6,551.9 L316.2,550.7 L316.9,556.5 L317.5,558.1 L318.1,561.4 L318.8,563.7 L319.4,566.7 L320.0,567.9 L320.7,566.3 L321.4,570.0 L322.1,577.5 L322.8,577.3 L323.5,582.1 L324.2,582.2 L324.9,582.2 L325.6,588.3 L326.2,586.5 L326.9,583.4 L327.5,591.2 L328.1,582.9 L328.8,588.1 L329.4,590.1 L330.0,588.3 L330.7,586.5 L331.4,594.1 L332.1,590.4 L332.8,593.1 L333.5,596.5 L334.2,599.1 L334.9,599.9 L335.6,603.3 L336.2,603.5 L336.9,603.7 L337.5,602.4 L338.1,603.6 L338.8,605.6 L339.4,604.2 L340.0,605.5 L340.6,604.3 L341.2,603.3 L341.9,604.9 L342.5,603.6 L343.1,602.5 L343.8,601.5 L344.4,605.0 L345.0,602.5 L345.6,602.9 L346.2,601.4 L346.9,602.4 L347.5,601.9 L348.1,597.8 L348.8,598.1 L349.4,598.7 L350.0,595.8 L350.6,593.3 L351.2,593.6 L351.9,588.6 L352.5,587.2 L353.1,586.1 L353.8,584.1 L354.4,581.1 L355.0,578.7 L355.6,578.2 L356.2,576.3 L356.9,570.5 L357.5,574.4 L358.1,572.1 L358.8,572.5 L359.4,568.5 L360.0,574.5 L360.6,572.1 L361.2,573.4 L361.9,571.4 L362.5,573.1 L363.1,570.0 L363.8,568.0 L364.4,565.9 L365.0,562.2 L365.6,561.5 L366.2,555.5 L366.9,552.4 L367.5,552.0 L368.1,550.1 L368.8,549.7 L369.4,549.2 L370.0,545.2 L370.6,549.3 L371.2,551.1 L371.9,544.2 L372.5,537.1 L373.1,533.5 L373.8,526.0 L374.4,521.6 L375.0,515.0 L375.6,518.4 L376.2,516.9 L376.9,515.4 L377.5,519.5 L378.1,519.4 L378.8,516.8 L379.4,514.3 L380.0,507.7 L380.6,512.2 L381.2,506.8 L381.9,501.1 L382.5,500.7 L383.1,502.7 L383.8,503.2 L384.4,500.4 L385.0,499.8 L385.6,496.3 L386.2,496.4 L386.9,501.8 L387.5,500.1 L388.1,497.4 L388.8,496.7 L389.4,490.2 L390.0,490.3 L390.6,490.7 L391.2,491.4 L391.9,484.1 L392.5,483.1 L393.1,476.3 L393.8,473.7 L394.4,469.8 L395.0,462.5 L395.6,459.1 L396.2,454.9 L396.9,446.4 L397.5,441.4 L398.1,442.9 L398.8,436.3 L399.4,435.3 L400.0,435.4 L400.6,432.0 L401.2,435.0 L401.9,432.2 L402.5,429.7 L403.1,429.7 L403.8,435.7 L404.4,428.9 L405.0,429.3 L405.6,432.4 L406.2,433.5 L406.9,434.7 L407.5,433.5 L408.1,434.6 L408.8,440.5 L409.4,441.3 L410.0,441.2 L410.6,447.8 L411.2,448.1 L411.9,445.0 L412.5,444.8 L413.1,445.8 L413.8,443.2 L414.4,442.4 L415.0,445.3 L415.6,438.9 L416.2,440.3 L416.9,435.8 L417.5,436.3 L418.1,435.6 L418.8,437.2 L419.4,430.2 L420.0,428.1 L420.7,428.1 L421.4,425.5 L422.1,424.0 L422.8,424.0 L423.5,422.1 L424.2,422.4 L424.9,415.2 L425.6,419.4 L426.2,416.3 L426.9,412.6 L427.5,408.6 L428.1,412.0 L428.8,413.6 L429.4,406.8 L430.1,409.2 L430.7,407.1 L431.4,401.6 L432.0,399.9 L432.7,402.2 L433.4,400.2 L434.1,404.7 L434.8,404.1 L435.5,405.1 L436.2,408.5 L436.9,405.2 L437.5,401.8 L438.1,395.2 L438.8,398.7 L439.4,392.9 L440.0,393.1 L440.6,397.7 L441.2,394.4 L441.9,391.1 L442.5,390.2 L443.1,394.0 L443.8,390.0 L444.4,390.0 L445.0,389.3 L445.6,387.3 L446.2,386.0 L446.9,385.5 L447.5,382.1 L448.1,384.2 L448.8,387.3 L449.4,384.9 L450.0,383.7 L450.6,381.9 L451.2,380.6 L451.9,380.1 L452.5,374.2 L453.1,373.3 L453.8,368.2 L454.4,371.1 L455.0,369.9 L455.6,369.9 L456.2,371.0 L456.9,368.0 L457.5,363.6 L458.1,362.3 L458.8,357.0 L459.4,356.4 L460.0,352.2 L460.6,346.0 L461.2,346.5 L461.9,342.8 L462.5,344.2 L463.1,341.4 L463.8,343.6 L464.4,344.7 L465.0,340.7 L465.6,338.3 L466.2,342.4 L466.9,345.5 L467.5,345.0 L468.1,347.1 L468.8,351.6 L469.4,348.9 L470.0,355.7 L470.6,356.3 L471.3,360.0 L471.9,359.1 L472.6,359.9 L473.2,362.4 L474.0,359.6 L474.7,359.4 L475.4,355.8 L476.1,353.4 L476.8,348.3 L477.5,350.3 L478.1,347.0 L478.8,347.1 L479.4,345.2 L480.0,339.7 L480.6,340.3 L481.2,337.7 L481.9,337.8 L482.5,337.5 L483.1,336.8 L483.8,339.0 L484.4,342.7 L485.0,336.7 L485.6,342.3 L486.2,342.3 L486.9,346.3 L487.5,347.0 L488.1,346.8 L488.8,338.6 L489.4,340.8 L490.0,339.6 L490.6,338.8 L491.2,335.0 L491.9,336.9 L492.5,339.8 L493.1,343.7 L493.8,336.3 L494.4,341.9 L495.0,343.5 L495.6,342.5 L496.2,342.0 L496.9,340.9 L497.5,342.1 L498.1,346.0 L498.8,347.8 L499.4,346.6 L500.0,347.4 L500.6,350.8 L501.2,352.5 L501.9,350.6 L502.6,346.8 L503.2,343.0 L503.9,340.3 L504.5,334.1 L505.2,339.8 L505.9,342.9 L506.6,341.7 L507.3,347.3 L508.0,347.8 L508.7,346.2 L509.3,340.9 L510.0,333.4 L510.6,333.7 L511.2,330.0 L511.8,328.2 L512.4,327.6 L513.0,327.4 L513.6,326.7 L514.3,327.4 L514.9,325.6 L515.6,327.2 L516.2,327.4 L516.9,325.7 L517.5,324.1 L518.2,327.3 L518.9,328.4 L519.6,324.9 L520.3,321.8 L521.0,327.6 L521.7,330.4 L522.4,324.1 L523.1,329.0 L523.8,326.1 L524.4,320.2 L525.0,317.9 L525.6,309.5 L526.2,307.7 L526.9,312.0 L527.5,312.4 L528.1,313.0 L528.8,314.0 L529.4,311.0 L530.0,305.9 L530.7,309.2 L531.4,300.7 L532.0,295.8 L532.6,293.1 L533.2,290.1 L533.8,289.8 L534.4,284.5 L535.0,286.9 L535.6,282.6 L536.2,281.9 L536.9,284.6 L537.5,286.1 L538.1,283.5 L538.8,278.8 L539.4,269.1 L540.0,261.5 L540.6,254.6 L541.2,245.8 L541.9,243.5 L542.5,239.8 L543.1,240.7 L543.8,235.8 L544.4,239.9 L545.0,237.8 L545.6,234.8 L546.2,237.3 L546.9,236.3 L547.5,237.0 L548.1,239.6 L548.8,233.6 L549.4,233.9 L550.1,238.0 L550.7,237.5 L551.4,239.1 L552.0,239.3 L552.6,240.3 L553.2,244.0 L553.8,242.8 L554.4,247.6 L555.0,246.9 L555.6,247.3 L556.3,251.3 L556.9,251.1 L557.6,247.4 L558.2,250.2 L558.9,254.5 L559.5,257.4 L560.1,258.0 L560.8,263.6 L561.4,265.6 L562.0,277.2 L562.6,274.7 L563.2,275.5 L563.8,276.7 L564.4,279.2 L565.0,280.4 L565.6,277.8 L566.2,278.6 L566.9,275.6 L567.5,277.9 L568.1,273.4 L568.8,272.5 L569.4,276.1 L570.0,278.2 L570.6,277.5 L571.2,277.6 L571.9,278.0 L572.5,275.6 L573.2,280.1 L573.9,277.1 L574.5,276.1 L575.1,280.1 L575.7,283.5 L576.2,292.1 L576.9,291.5 L577.5,285.1 L578.1,279.9 L578.8,276.9 L579.4,271.0 L580.0,272.2 L580.6,268.3 L581.2,267.7 L581.9,270.8 L582.5,270.2 L583.1,272.8 L583.8,267.7 L584.4,268.4 L585.0,265.5 L585.6,264.0 L586.2,264.8 L586.9,268.7 L587.5,264.3 L588.1,268.3 L588.8,270.4 L589.4,268.9 L590.0,275.6 L590.6,274.8 L591.2,277.2 L591.9,274.7 L592.5,277.0 L593.1,272.4 L593.8,274.4 L594.4,271.3 L595.0,272.0 L595.6,276.9 L596.3,278.6 L596.9,280.2 L597.6,282.7 L598.2,282.9 L598.9,280.1 L599.5,286.2 L600.2,286.1 L600.9,283.0 L601.6,282.8 L602.3,276.6 L603.0,280.6 L603.8,275.3 L604.4,274.7 L605.0,274.3 L605.7,267.7 L606.4,266.3 L607.0,259.4 L607.6,263.9 L608.2,264.6 L608.8,269.8 L609.4,273.1 L610.0,272.8 L610.6,273.4 L611.2,268.8 L611.9,269.2 L612.5,270.2 L613.1,274.7 L613.8,273.5 L614.4,272.8 L615.0,273.9 L615.6,265.2 L616.2,261.9 L616.9,258.7 L617.5,250.0 L618.1,245.7 L618.8,242.9 L619.3,238.6 L619.9,237.4 L620.5,232.9 L621.1,239.4 L621.8,233.9 L622.5,239.4 L623.1,243.0 L623.8,252.8 L624.4,248.7 L625.0,245.8 L625.6,243.0 L626.2,242.8 L626.9,241.6 L627.5,239.3 L628.1,234.6 L628.8,235.2 L629.4,235.4 L630.0,232.9 L630.6,230.6 L631.2,227.0 L631.9,226.7 L632.5,232.5 L633.1,233.4 L633.8,238.4 L634.4,240.1 L635.0,237.7 L635.6,236.6 L636.2,240.4 L636.9,238.7 L637.5,235.8 L638.1,233.0 L638.8,240.3 L639.4,242.8 L640.0,245.5 L640.6,241.9 L641.2,242.4 L641.9,239.9 L642.5,241.3 L643.1,235.9 L643.8,235.4 L644.4,232.1 L645.0,232.7 L645.6,228.4 L646.2,232.2 L646.9,230.6 L647.5,231.2 L648.1,234.1 L648.8,234.9 L649.4,229.5 L650.0,234.3 L650.6,233.3 L651.2,232.5 L651.9,235.4 L652.5,232.4 L653.2,233.9 L653.9,229.5 L654.5,226.9 L655.1,233.2 L655.7,236.2 L656.3,235.7 L656.9,238.5 L657.5,238.9 L658.1,239.5 L658.8,245.4 L659.4,253.0 L660.0,249.2 L660.6,256.9 L661.2,257.2 L661.9,262.9 L662.5,267.0 L663.1,264.4 L663.8,268.5 L664.4,272.2 L665.0,270.4 L665.6,268.4 L666.2,266.5 L666.8,265.6 L667.4,270.2 L668.0,267.5 L668.6,274.2 L669.3,275.8 L670.0,275.6 L670.6,278.5 L671.2,284.8 L671.9,285.8 L672.5,287.2 L673.1,284.9 L673.8,290.1 L674.4,285.4 L675.0,282.9 L675.7,284.5 L676.4,284.7 L677.0,287.5 L677.6,287.6 L678.2,290.9 L678.9,304.7 L679.5,305.5 L680.1,308.4 L680.8,310.6 L681.4,314.9 L682.0,322.3 L682.7,315.7 L683.4,312.4 L684.1,308.6 L684.8,310.4 L685.5,302.9 L686.1,307.5 L686.8,307.7 L687.4,309.8 L688.1,309.8 L688.7,313.9 L689.4,316.9 L690.0,315.0 L690.6,312.3 L691.2,310.4 L691.9,313.7 L692.5,312.5 L693.1,312.2 L693.8,311.3 L694.4,306.3 L695.0,307.6 L695.6,303.9 L696.2,300.1 L696.9,297.0 L697.5,296.9 L698.1,294.6 L698.7,291.9 L699.3,295.5 L699.9,291.1 L700.5,289.2 L701.2,283.9 L701.8,281.7 L702.5,274.9 L703.1,277.5 L703.8,279.1 L704.4,279.5 L705.0,281.6 L705.6,279.9 L706.2,280.1 L706.9,277.3 L707.5,274.5 L708.2,274.3 L708.9,270.0 L709.5,265.6 L710.2,264.9 L710.9,259.8 L711.6,254.1 L712.3,248.7 L713.0,248.7 L713.8,243.9 L714.4,243.3 L715.0,240.0 L715.6,236.5 L716.2,234.6 L716.9,231.9 L717.5,229.2 L718.1,229.2 L718.8,230.0 L719.4,231.2 L720.1,232.4 L720.7,230.6 L721.4,232.7 L722.0,233.0 L722.6,225.5 L723.2,218.4 L723.8,214.9 L724.4,208.1 L725.0,209.0 L725.6,201.3 L726.2,202.5 L726.9,201.1 L727.5,201.4 L728.1,199.1 L728.8,195.9 L729.4,193.6 L730.0,192.0 L730.6,191.8 L731.2,189.4 L731.9,186.3 L732.5,184.0 L733.1,183.0 L733.8,183.5 L734.4,182.6 L735.0,187.7 L735.7,193.5 L736.4,194.3 L737.0,194.7 L737.7,193.5 L738.4,186.5 L739.1,182.9 L739.8,182.1 L740.5,179.1 L741.2,170.3 L741.9,172.7 L742.5,172.9 L743.1,165.2 L743.8,163.4 L744.4,164.6 L745.0,159.4 L745.6,160.4 L746.2,156.9 L746.9,151.2 L747.5,153.7 L748.2,150.0 L748.8,148.9 L749.5,149.7 L750.1,143.0 L750.8,138.0 L751.4,141.6 L752.1,141.0 L752.8,144.0 L753.5,140.9 L754.1,142.6 L754.8,141.8 L755.5,148.3 L756.1,146.3 L756.8,143.9 L757.4,144.4 L758.1,144.1 L758.7,143.4 L759.4,146.1 L760.0,145.0 L760.6,146.0 L761.2,139.9 L761.9,133.2 L762.5,129.0 L763.1,128.6 L763.8,123.8 L764.4,120.6 L765.0,120.8 L765.6,121.6 L766.2,115.0 L766.9,116.1 L767.5,112.0 L768.1,112.9 L768.8,109.1 L769.4,106.6 L770.0,104.8 L770.6,107.6 L771.2,105.0 L771.8,102.9 L772.4,106.0 L773.1,99.2 L773.7,97.4 L774.4,104.4 L775.1,96.6 L775.8,93.9 L776.4,92.3 L777.1,92.2 L777.8,92.4 L778.4,90.9 L779.1,87.4 L779.8,82.8 L780.4,79.3 L781.1,81.5 L781.8,83.5 L782.4,80.6 L783.1,76.2 L783.8,75.2 L784.5,71.1 L785.2,70.7 L785.8,67.4 L786.5,67.2 L787.2,65.8 L787.9,62.6 L788.6,61.0 L789.3,61.0 L790.1,56.0 L790.8,49.6 L791.5,46.7 L792.1,45.4 L792.8,44.1 L793.4,44.6 L794.1,45.5 L794.8,45.4 L795.4,44.5 L796.1,43.8 L796.7,41.9 L797.4,39.3 L798.1,46.0 L798.7,46.1 L799.4,43.7 L800.0,43.6 L800.7,44.1 L801.3,46.3 L802.0,49.1 L802.6,50.1 L803.3,50.3 L804.0,51.8 L804.7,54.2 L805.4,55.1 L806.0,56.6 L806.7,56.5 L807.4,53.6 L808.1,57.3 L808.8,61.6 L809.5,58.4 L810.3,59.8 L811.0,65.1 L811.7,65.2 L812.5,61.4 L813.2,62.2 L814.0,56.1 L814.7,53.5 L815.4,46.6 L816.2,46.6 L816.9,43.7 L817.6,41.7 L818.3,44.4 L818.9,42.8 L819.6,40.9 L820.2,42.1 L820.9,37.2 L821.5,41.3 L822.2,41.9 L822.8,40.3 L823.5,39.8 L824.1,41.5 L824.8,39.0 L825.5,42.3 L826.1,43.3 L826.8,39.8 L827.5,42.1 L828.2,44.2 L828.8,42.7 L829.5,42.1 L830.2,41.5 L830.9,41.9 L831.6,44.7 L832.2,49.7 L832.9,54.1 L833.6,53.7 L834.3,54.9 L835.0,55.7 L835.7,51.6 L836.4,56.8 L837.1,57.9 L837.8,63.8 L838.5,66.7 L839.2,63.9 L840.0,67.2 L840.7,70.8 L841.4,70.7 L842.1,69.1 L842.8,67.0 L843.5,67.9 L844.1,63.5 L844.8,65.1 L845.5,61.4 L846.2,60.7 L846.9,60.8 L847.6,55.5 L848.3,54.6 L849.0,56.4 L849.7,52.3 L850.4,51.7 L851.2,55.1 L852.0,56.4 L852.6,49.4 L853.3,47.7 L853.9,44.8 L854.5,49.1 L855.1,45.3 L855.7,53.5 L856.3,56.0 L856.9,54.4 L857.5,56.2 L858.1,61.6 L858.7,61.6 L859.3,60.7 L859.9,60.2 L860.5,55.7 L861.1,55.5 L861.7,53.7 L862.4,54.3 L863.1,55.0 L863.8,53.6 L864.5,51.7 L865.2,49.2 L865.9,56.6 L866.6,53.3 L867.3,52.5 L867.9,51.2 L868.6,53.9 L869.3,53.0 L870.0,55.2 L870.7,52.6 L871.4,54.8 L872.1,55.8 L872.7,53.6 L873.4,56.6 L874.1,59.4 L874.8,58.8 L875.4,58.2 L876.1,60.0 L876.7,58.6 L877.4,62.9 L878.0,61.4 L878.7,64.0 L879.3,63.9 L880.0,58.5 L880.6,60.7 L881.3,60.2 L881.9,61.2 L882.6,62.8 L883.2,61.8 L883.9,63.8 L884.6,64.3 L885.2,60.9 L885.9,62.1 L886.6,64.0 L887.2,64.6 L887.9,58.1 L888.6,66.2 L889.2,63.4 L889.9,67.1 L890.5,62.2 L891.2,62.2 L891.8,65.5 L892.5,68.5 L893.1,67.7 L893.8,62.6 L894.5,68.9 L895.1,64.3 L895.8,66.3 L896.5,67.4 L897.1,65.4 L897.8,67.2 L898.5,69.2 L899.1,69.8 L899.8,72.8 L900.5,73.0 L901.1,70.6 L901.8,74.5 L902.4,76.6 L903.1,77.5 L903.7,76.7 L904.4,77.2 L905.0,78.7 L905.7,79.4 L906.4,79.7 L907.0,77.3 L907.7,77.4 L908.3,81.3 L909.0,82.5 L909.6,82.8 L910.3,76.8 L910.9,81.3 L911.6,75.3 L912.2,82.7 L912.9,81.1 L913.6,81.7 L914.2,82.4 L914.9,86.6 L915.6,84.4 L916.3,87.6 L916.9,87.9 L917.6,87.4 L918.3,87.8 L919.0,88.0 L919.8,85.6 L920.5,90.6 L921.2,91.8 L921.8,94.1 L922.4,100.6 L923.0,104.7 L923.6,104.5 L924.2,111.0 L924.9,115.1 L925.6,120.1 L926.2,127.0 L926.9,126.3 L927.5,129.3 L928.1,130.4 L928.8,132.3 L929.4,132.9 L930.0,136.2 L930.6,133.6 L931.2,136.7 L931.9,135.9 L932.5,141.9 L933.1,144.6 L933.8,146.7 L934.4,145.4 L935.0,148.8 L935.6,151.9 L936.3,150.1 L936.9,153.5 L937.6,149.9 L938.2,155.8 L938.9,155.8 L939.5,157.0 L940.2,154.7 L940.9,156.3 L941.6,156.8 L942.3,154.7 L943.0,154.2 L943.8,153.4 L944.4,156.4 L945.0,161.3 L945.6,157.4 L946.2,162.0 L946.9,165.0 L947.5,168.7 L948.1,168.1 L948.8,173.1 L949.4,171.5 L950.0,171.4 L950.6,170.2 L951.2,172.8 L951.8,177.3 L952.4,181.9 L953.0,184.9 L953.6,186.3 L954.3,182.3 L954.9,188.1 L955.6,179.2 L956.2,182.6 L956.8,180.9 L957.5,184.8 L958.1,179.6 L958.8,188.1 L959.4,181.0 L960.0,186.1 L960.6,182.7 L961.2,178.7 L961.9,175.4 L962.5,174.2 L963.1,167.9 L963.8,160.2 L964.4,168.6 L965.0,169.1 L965.6,165.9 L966.2,170.9 L966.9,168.8 L967.5,172.9 L968.1,172.5 L968.8,169.8 L969.4,170.4 L970.0,165.5 L970.6,164.5 L971.2,160.6 L971.9,162.6 L972.5,166.5 L973.1,165.5 L973.8,163.7 L974.4,167.4 L975.0,168.7 L975.6,172.8 L976.2,177.2 L976.9,179.1 L977.5,181.4 L978.1,180.0 L978.8,180.8 L979.4,181.4 L980.0,178.6 L980.6,179.7 L981.2,179.4 L981.9,185.0 L982.5,188.8 L983.1,189.6 L983.8,195.8 L984.4,198.1 L985.0,203.2 L985.6,206.2 L986.2,209.5 L986.9,211.1 L987.5,208.8 L988.1,208.3 L988.8,212.2 L989.4,221.4 L990.0,234.0 L990.6,232.6 L991.2,233.2 L991.9,232.9 L992.5,232.1 L993.1,231.9 L993.8,236.2 L994.4,235.8 L995.0,237.8 L995.6,241.9 L996.2,240.1 L996.9,238.5 L997.5,245.2 L998.1,247.1 L998.8,250.3 L999.4,250.5 L1000.0,252.7 L1000.6,253.9 L1001.2,255.3 L1001.9,261.7 L1002.5,260.9 L1003.1,262.9 L1003.8,264.7 L1004.3,272.6 L1004.9,275.2 L1005.5,276.2 L1006.2,306.1 L1006.9,307.0 L1007.5,308.5 L1008.1,304.9 L1008.8,310.5 L1009.4,311.2 L1010.0,312.9 L1010.6,315.5 L1011.2,319.3 L1011.9,317.3 L1012.5,310.3 L1013.1,307.8 L1013.8,302.7 L1014.4,303.3 L1015.0,300.7 L1015.6,295.5 L1016.3,296.5 L1016.9,296.9 L1017.6,290.0 L1018.2,292.8 L1018.9,294.6 L1019.5,290.8 L1020.1,298.1 L1020.7,300.2 L1021.3,304.2 L1021.9,303.7 L1022.5,312.2 L1023.1,315.6 L1023.8,319.3 L1024.4,321.3 L1025.0,322.1 L1025.6,323.8 L1026.2,321.3 L1026.9,325.7 L1027.5,330.4 L1028.1,335.2 L1028.8,341.7 L1029.4,334.4 L1030.0,334.5 L1030.7,331.1 L1031.3,330.0 L1032.0,334.3 L1032.7,333.7 L1033.4,337.6 L1034.1,337.5 L1034.8,333.4 L1035.5,332.7 L1036.2,342.1 L1036.9,336.9 L1037.5,337.1 L1038.1,339.6 L1038.8,338.1 L1039.4,336.7 L1040.0,337.2 L1040.6,341.1 L1041.2,344.2 L1041.8,345.7 L1042.4,344.3 L1043.0,345.8 L1043.7,344.1 L1044.3,342.9 L1045.0,342.7 L1045.6,337.4 L1046.2,334.6 L1046.9,335.4 L1047.5,344.8 L1048.2,342.8 L1048.8,351.3 L1049.5,353.3 L1050.2,354.6 L1050.9,356.4 L1051.6,350.8 L1052.3,352.1 L1053.0,348.4 L1053.8,354.8 L1054.4,352.5 L1055.0,354.1 L1055.6,359.5 L1056.2,363.9 L1056.9,361.5 L1057.5,357.2 L1058.1,350.0 L1058.8,348.5 L1059.4,350.4 L1060.0,344.4 L1060.6,342.8 L1061.2,341.2 L1061.9,339.7 L1062.5,343.5 L1063.1,341.4 L1063.8,339.4 L1064.4,338.0 L1065.0,337.0 L1065.6,337.9 L1066.2,333.7 L1066.9,332.9 L1067.5,331.6 L1068.1,333.6 L1068.8,330.4 L1069.4,327.4 L1070.0,327.7 L1070.6,326.9 L1071.2,327.7 L1071.9,326.3 L1072.5,321.0 L1073.1,320.1 L1073.8,317.9 L1074.4,313.8 L1075.1,314.3 L1075.7,314.2 L1076.4,313.5 L1077.0,310.8 L1077.6,315.2 L1078.2,323.5 L1078.9,321.7 L1079.5,326.4 L1080.2,330.3 L1081.0,332.5 L1081.8,335.8 L1082.4,338.1 L1083.0,334.4 L1083.7,333.1 L1084.3,333.1 L1085.0,329.4 L1085.6,331.8 L1086.3,332.9 L1086.9,329.2 L1087.6,332.2 L1088.2,331.1 L1088.9,329.8 L1089.5,333.8 L1090.1,330.1 L1090.7,326.7 L1091.3,321.2 L1091.9,323.4 L1092.5,321.4 L1093.1,321.7 L1093.8,319.3 L1094.4,316.0 L1095.1,318.2 L1095.7,315.6 L1096.4,321.8 L1097.0,316.0 L1097.6,318.5 L1098.2,313.5 L1098.8,314.6 L1099.4,316.5 L1100.0,318.5 L1100.6,309.2 L1101.2,299.3 L1101.9,295.6 L1102.5,303.1 L1103.1,299.9 L1103.8,305.2 L1104.4,307.9 L1105.0,307.7 L1105.6,309.4 L1106.2,306.5 L1106.9,309.9 L1107.5,301.5 L1108.1,300.0 L1108.8,293.0 L1109.4,292.0 L1110.0,287.2 L1110.6,288.6 L1111.2,288.3 L1111.9,288.8 L1112.5,290.1 L1113.1,286.8 L1113.8,285.6 L1114.4,282.8 L1115.0,284.4 L1115.6,276.8 L1116.2,277.8 L1116.9,269.8 L1117.5,271.0 L1118.1,272.7 L1118.8,269.8 L1119.4,276.5 L1120.0,274.6 L1120.7,264.6 L1121.3,265.3 L1122.0,266.8 L1122.6,267.9 L1123.2,265.7 L1123.8,260.7 L1124.4,254.3 L1125.0,251.6 L1125.6,245.1 L1126.2,245.9 L1126.9,247.4 L1127.5,246.7 L1128.1,240.3 L1128.8,239.5 L1129.4,240.0 L1130.0,234.7 L1130.6,232.9 L1131.2,233.5 L1131.9,232.9 L1132.5,230.5 L1133.1,228.5 L1133.8,228.0 L1134.4,227.4 L1135.0,226.5 L1135.6,228.3 L1136.2,226.4 L1136.9,229.1 L1137.5,231.7 L1138.1,231.4 L1138.8,234.0 L1139.4,232.0 L1140.0,231.9 L1140.6,238.4 L1141.2,233.7 L1141.8,234.9 L1142.4,235.7 L1143.0,238.2 L1143.7,229.9 L1144.3,222.4 L1145.0,211.6 L1145.6,207.0 L1146.2,208.5 L1146.9,209.3 L1147.5,206.7 L1148.1,205.6 L1148.8,205.9 L1149.4,207.8 L1150.0,203.7 L1150.6,201.0 L1151.2,203.1 L1151.9,203.4 L1152.5,200.8 L1153.1,205.6 L1153.8,202.0 L1154.4,206.0 L1155.0,207.7 L1155.6,207.3 L1156.2,213.7 L1156.9,211.7 L1157.5,212.9 L1158.1,215.1 L1158.8,215.0 L1159.4,212.6 L1160.0,210.8 L1160.6,214.8 L1161.2,215.4 L1161.8,217.6 L1162.4,210.6 L1163.0,209.5 L1163.7,208.8 L1164.3,208.9 L1165.0,213.9 L1165.6,217.5 L1166.2,215.9 L1166.9,214.3 L1167.5,212.4 L1168.1,217.0 L1168.8,211.5 L1169.4,213.7 L1170.0,209.5 L1170.6,207.8 L1171.2,205.1 L1171.9,198.3 L1172.5,200.7 L1173.1,198.5 L1173.8,191.4 L1174.4,192.8 L1175.0,190.9 L1175.6,189.4 L1176.2,188.9 L1176.9,183.8 L1177.5,185.6 L1178.1,185.4 L1178.8,178.8 L1179.5,186.6 L1180.2,193.0 L1180.9,195.0 L1181.6,198.8 L1182.3,200.9 L1183.0,207.1 L1183.7,203.6 L1184.3,202.1 L1185.0,195.4 L1185.6,197.5 L1186.2,191.8 L1186.9,192.8 L1187.5,189.4 L1188.1,187.5 L1188.8,188.7 L1189.4,188.9 L1190.0,189.6 L1190.6,191.4 L1191.2,191.3 L1191.9,191.6 L1192.5,194.0 L1193.2,197.0 L1193.8,202.5 L1194.5,204.9 L1195.2,197.7 L1195.9,194.9 L1196.6,189.4 L1197.3,188.0 L1198.0,186.0 L1198.7,175.6 L1199.3,180.4 L1200.0,176.8 L1200.7,170.3 L1201.3,172.5 L1202.0,168.0 L1202.7,169.7 L1203.4,169.0 L1204.1,177.8 L1204.8,175.4 L1205.5,177.1 L1206.2,181.7 L1206.9,178.9 L1207.5,178.1 L1208.1,177.9 L1208.8,170.6 L1209.4,176.3 L1210.0,171.5 L1210.6,170.5 L1211.2,169.3 L1211.8,163.7 L1212.4,163.3 L1213.0,162.6 L1213.7,163.0 L1214.3,166.0 L1215.0,161.7 L1215.7,162.7 L1216.3,163.8 L1217.0,168.9 L1217.7,183.1 L1218.4,182.2 L1219.1,186.0 L1219.8,189.8 L1220.5,197.1 L1221.2,192.6 L1221.8,184.5 L1222.5,185.3 L1223.1,178.6 L1223.8,174.6 L1224.5,169.2 L1225.2,169.9 L1225.9,173.8 L1226.6,169.5 L1227.3,173.9 L1228.0,173.5 L1228.6,174.6 L1229.2,177.0 L1229.9,178.6 L1230.5,180.6 L1231.1,180.9 L1231.8,183.6 L1232.4,192.5 L1233.0,190.7 L1233.7,185.6 L1234.3,182.7 L1235.0,174.7 L1235.7,173.1 L1236.3,170.2 L1237.0,171.2 L1237.7,166.4 L1238.4,161.3 L1239.1,162.2 L1239.8,160.3 L1240.5,160.2 L1241.1,157.7 L1241.8,153.5 L1242.4,155.4 L1243.0,154.6 L1243.6,154.4 L1244.2,152.2 L1244.9,149.3 L1245.5,152.1 L1246.2,165.3 L1246.8,177.6 L1247.5,191.2 L1248.1,195.4 L1248.8,192.3 L1249.4,191.4 L1250.0,193.6 L1250.6,187.5 L1251.2,190.7 L1251.9,187.8 L1252.5,188.4 L1253.1,191.2 L1253.8,195.3 L1254.4,192.0 L1255.0,195.8 L1255.6,195.3 L1256.2,193.5 L1256.9,201.3 L1257.5,201.8 L1258.2,205.5 L1258.8,209.3 L1259.5,212.4 L1260.1,216.4 L1260.7,212.5 L1261.3,217.1 L1261.9,216.3 L1262.5,214.4 L1263.1,211.4 L1263.8,211.8 L1264.4,205.2 L1265.0,202.2 L1265.6,203.1 L1266.2,203.9 L1266.9,204.1 L1267.5,206.6 L1268.1,207.7 L1268.8,204.4 L1269.4,208.8 L1270.0,206.8 L1270.7,211.7 L1271.4,208.6 L1272.1,207.4 L1272.8,208.3 L1273.5,208.2 L1274.2,209.0 L1274.9,210.1 L1275.6,207.4 L1276.2,204.5 L1276.9,209.3 L1277.5,212.5 L1278.1,213.1 L1278.8,211.9 L1279.4,214.5 L1280.0,213.6 L1280.6,216.4 L1281.2,216.3 L1281.9,221.8 L1282.5,230.1 L1283.1,232.5 L1283.8,239.4 L1284.4,236.9 L1285.0,237.5 L1285.6,238.5 L1286.2,239.8 L1286.9,237.9 L1287.5,241.9 L1288.1,239.6 L1288.8,243.4 L1289.4,244.0 L1290.0,239.2 L1290.6,243.8 L1291.2,243.0 L1291.9,244.2 L1292.5,241.8 L1293.1,242.6 L1293.8,242.5 L1294.4,236.9 L1295.0,237.1 L1295.6,240.8 L1296.2,239.0 L1296.9,239.9 L1297.5,237.1 L1298.1,232.7 L1298.8,235.2 L1299.4,231.9 L1300.0,232.8 L1300.6,232.7 L1301.2,234.6 L1301.9,231.9 L1302.5,232.9 L1303.1,228.9 L1303.7,235.9 L1304.3,228.5 L1304.9,227.4 L1305.5,225.9 L1306.2,231.6 L1306.8,237.3 L1307.5,244.9 L1308.1,249.1 L1308.8,254.8 L1309.4,250.4 L1310.0,250.2 L1310.6,250.8 L1311.2,246.0 L1311.9,245.6 L1312.5,238.1 L1313.1,242.3 L1313.8,240.7 L1314.4,240.0 L1315.0,230.7 L1315.6,233.1 L1316.2,230.8 L1316.9,230.7 L1317.5,229.0 L1318.1,233.1 L1318.8,236.4 L1319.4,236.0 L1320.0,237.1 L1320.6,239.1 L1321.2,239.0 L1321.9,242.5 L1322.5,242.7 L1323.1,241.6 L1323.8,252.2 L1324.4,249.4 L1325.0,255.2 L1325.6,253.9 L1326.2,255.3 L1326.9,254.5 L1327.5,257.0 L1328.1,256.9 L1328.8,257.2 L1329.4,261.2 L1330.0,264.6 L1330.6,265.7 L1331.2,268.4 L1331.9,269.2 L1332.5,273.5 L1333.1,276.5 L1333.8,277.7 L1334.4,278.1 L1335.0,274.4 L1335.6,272.3 L1336.2,268.5 L1336.9,275.4 L1337.5,283.1 L1338.1,290.2 L1338.8,295.3 L1339.4,291.3 L1340.0,291.3 L1340.6,293.1 L1341.2,287.9 L1341.9,295.0 L1342.5,292.7 L1343.1,289.2 L1343.7,286.4 L1344.3,285.7 L1344.9,282.1 L1345.5,283.3 L1346.1,279.8 L1346.8,274.2 L1347.4,276.2 L1348.1,271.4 L1348.7,267.9 L1349.4,266.1 L1350.0,264.1 L1350.6,265.3 L1351.2,265.7 L1351.9,263.8 L1352.5,260.1 L1353.1,256.3 L1353.8,256.7 L1354.4,258.3 L1355.0,257.5 L1355.6,258.4 L1356.2,251.2 L1356.9,252.7 L1357.5,251.0 L1358.1,251.9 L1358.8,253.3 L1359.4,252.6 L1360.0,253.6 L1360.6,254.1 L1361.2,255.9 L1361.9,260.3 L1362.5,263.5 L1363.1,261.0 L1363.8,263.2 L1364.4,266.5 L1365.0,267.7 L1365.6,271.7 L1366.2,269.1 L1366.9,271.7 L1367.5,269.1 L1368.1,272.0 L1368.8,274.2 L1369.5,275.0 L1370.2,269.7 L1370.9,268.3 L1371.6,261.2 L1372.3,260.7 L1373.0,260.1 L1373.7,265.5 L1374.3,271.0 L1375.0,274.9 L1375.6,273.9 L1376.2,281.8 L1376.9,279.5 L1377.6,286.1 L1378.3,284.0 L1379.0,286.6 L1379.7,286.8 L1380.4,288.1 L1381.1,289.9 L1381.8,288.3 L1382.5,293.0 L1383.1,291.9 L1383.8,291.0 L1384.4,288.5 L1385.0,288.5 L1385.6,284.6 L1386.2,292.5 L1386.9,285.5 L1387.5,287.3 L1388.1,290.7 L1388.8,291.9 L1389.4,289.4 L1390.0,287.7 L1390.7,289.6 L1391.3,291.7 L1392.0,292.6 L1392.6,294.6 L1393.2,299.0 L1393.8,295.9 L1394.5,290.2 L1395.0,289.9 L1395.7,287.5 L1396.2,285.3 L1396.9,281.0 L1397.5,280.1 L1398.1,281.0 L1398.8,282.5 L1399.4,279.1 L1400.0,283.9 L1400.6,280.8 L1401.2,273.0 L1401.9,267.9 L1402.5,267.0 L1403.1,263.4 L1403.8,262.4 L1404.4,258.5 L1405.0,265.9 L1405.6,266.3 L1406.2,260.2 L1406.9,264.5 L1407.5,273.4 L1408.1,280.8 L1408.8,290.1 L1409.5,288.0 L1410.2,285.8 L1410.9,281.4 L1411.6,284.2 L1412.3,284.2 L1413.0,279.6 L1413.7,281.4 L1414.3,281.8 L1415.0,281.6 L1415.6,282.2 L1416.2,287.3 L1416.9,284.5 L1417.5,289.4 L1418.1,285.6 L1418.8,290.1 L1419.4,289.1 L1420.0,293.1 L1420.7,292.3 L1421.3,293.7 L1422.0,292.1 L1422.7,288.7 L1423.4,290.0 L1424.1,287.3 L1424.8,283.5 L1425.5,283.2 L1426.2,279.6 L1426.9,282.0 L1427.5,279.2 L1428.1,278.6 L1428.8,282.1 L1429.4,273.0 L1430.0,270.7 L1430.6,268.5 L1431.2,264.7 L1431.9,263.0 L1432.5,264.3 L1433.1,263.6 L1433.8,255.1 L1434.4,258.7 L1435.0,256.7 L1435.6,257.1 L1436.2,262.0 L1436.9,259.6 L1437.5,262.3 L1438.1,259.3 L1438.8,259.0 L1439.5,258.6 L1440.2,254.2 L1440.9,253.3 L1441.6,248.8 L1442.3,246.0 L1443.0,244.9 L1443.7,246.8 L1444.3,245.9 L1445.0,247.7 L1445.6,258.0 L1446.2,253.3 L1446.9,253.2 L1447.5,258.4 L1448.1,256.7 L1448.8,260.2 L1449.4,263.8 L1450.0,263.5 L1450.6,258.8 L1451.2,259.0 L1451.8,253.5 L1452.4,251.3 L1453.0,247.6 L1453.7,248.2 L1454.3,251.2 L1455.0,252.6 L1455.6,255.0 L1456.2,258.5 L1456.9,256.9 L1457.5,255.4 L1458.1,253.8 L1458.8,254.9 L1459.4,252.3 L1460.0,252.9 L1460.6,252.0 L1461.2,246.6 L1461.9,242.2 L1462.5,240.2 L1463.1,240.4 L1463.8,240.6 L1464.4,244.5 L1465.0,240.3 L1465.6,245.0 L1466.2,246.1 L1466.9,246.6 L1467.5,240.0 L1468.1,237.0 L1468.8,231.9 L1469.4,231.4 L1470.0,229.7 L1470.6,229.3 L1471.2,227.5 L1471.9,226.2 L1472.5,227.6 L1473.1,227.4 L1473.8,228.4 L1474.4,225.4 L1475.0,226.6 L1475.6,225.6 L1476.2,219.1 L1476.9,218.7 L1477.5,213.9 L1478.2,212.2 L1478.8,210.8 L1479.5,206.6 L1480.1,206.6 L1480.8,204.3 L1481.3,202.8 L1482.0,203.4 L1482.5,206.4 L1483.2,208.8 L1483.8,212.4 L1484.4,209.0 L1485.0,209.0 L1485.6,206.7 L1486.2,208.2 L1486.9,208.3 L1487.5,209.6 L1488.1,205.7 L1488.8,203.5 L1489.4,199.2 L1490.0,198.0 L1490.6,193.1 L1491.2,188.7 L1491.9,190.0 L1492.5,186.2 L1493.2,184.6 L1493.8,182.9 L1494.5,172.7 L1495.2,174.0 L1495.9,171.5 L1496.6,175.7 L1497.3,174.7 L1498.0,175.9 L1498.8,173.4 L1499.4,179.5 L1500.0,173.7 L1500.6,173.6 L1501.2,176.5 L1501.9,176.5 L1502.5,174.3 L1503.1,172.6 L1503.8,169.2 L1504.4,171.0 L1505.0,170.5 L1505.6,166.4 L1506.2,171.1 L1506.9,164.2 L1507.5,163.4 L1508.1,154.3 L1508.8,150.2 L1509.4,145.4 L1510.0,139.9 L1510.6,142.0 L1511.2,138.3 L1511.9,143.2 L1512.5,140.4 L1513.1,144.9 L1513.8,142.9 L1514.4,141.0 L1515.0,147.8 L1515.6,143.3 L1516.2,146.9 L1516.9,143.7 L1517.5,147.2 L1518.1,146.2 L1518.8,144.8 L1519.4,142.3 L1520.0,137.7 L1520.6,130.3 L1521.2,130.6 L1521.9,129.4 L1522.6,129.5 L1523.3,131.8 L1524.0,135.7" fill="none" stroke="#006400" stroke-width="7.2" stroke-linejoin="round" stroke-linecap="round"/>
<text x="186.6" y="57" fill="#000">ID3</text>
<text x="1543" y="57" fill="#000" text-anchor="end">3 Cancer Types Considered</text>
<text x="1543" y="95" fill="#000" text-anchor="end">2/3 Cancer Types With Similar Occupancy</text>
<rect x="172.0" y="9.0" width="1385.0" height="625.0" fill="none" stroke="#000" stroke-width="4"/>
<line x1="204.9" y1="636.0" x2="204.9" y2="647.8" stroke="#555555" stroke-width="3.9"/>
<text x="204.9" y="676" fill="#555555" text-anchor="middle">-1000 bp</text>
<line x1="534.5" y1="636.0" x2="534.5" y2="647.8" stroke="#555555" stroke-width="3.9"/>
<text x="534.5" y="676" fill="#555555" text-anchor="middle">-500 bp</text>
<line x1="864.0" y1="636.0" x2="864.0" y2="647.8" stroke="#555555" stroke-width="3.9"/>
<text x="864.0" y="676" fill="#555555" text-anchor="middle">0</text>
<line x1="1194.0" y1="636.0" x2="1194.0" y2="647.8" stroke="#555555" stroke-width="3.9"/>
<text x="1194.0" y="676" fill="#555555" text-anchor="middle">+500 bp</text>
<line x1="1524.0" y1="636.0" x2="1524.0" y2="647.8" stroke="#555555" stroke-width="3.9"/>
<text x="1524.0" y="676" fill="#555555" text-anchor="middle">+1000 bp</text>
<line x1="157.9" y1="580.0" x2="170.0" y2="580.0" stroke="#555555" stroke-width="3.9"/>
<text x="152.7" y="592.0" fill="#555555" text-anchor="end">100</text>
<line x1="157.9" y1="370.0" x2="170.0" y2="370.0" stroke="#555555" stroke-width="3.9"/>
<text x="152.7" y="382.0" fill="#555555" text-anchor="end">110</text>
<line x1="157.9" y1="160.0" x2="170.0" y2="160.0" stroke="#555555" stroke-width="3.9"/>
<text x="152.7" y="171.0" fill="#555555" text-anchor="end">120</text>
<text x="864.4" y="741" fill="#555555" text-anchor="middle">Somatic Mutations Location</text>
<text x="192.4" y="741" fill="#555555">5’</text>
<text x="1511" y="741" fill="#555555">3’</text>
<text transform="translate(31.2,322.6) rotate(-90)" fill="#555555" text-anchor="middle">Average</text>
<text transform="translate(63,325.1) rotate(-90)" fill="#555555" text-anchor="middle">CTCF Signal</text>
</svg>
</body></html>
